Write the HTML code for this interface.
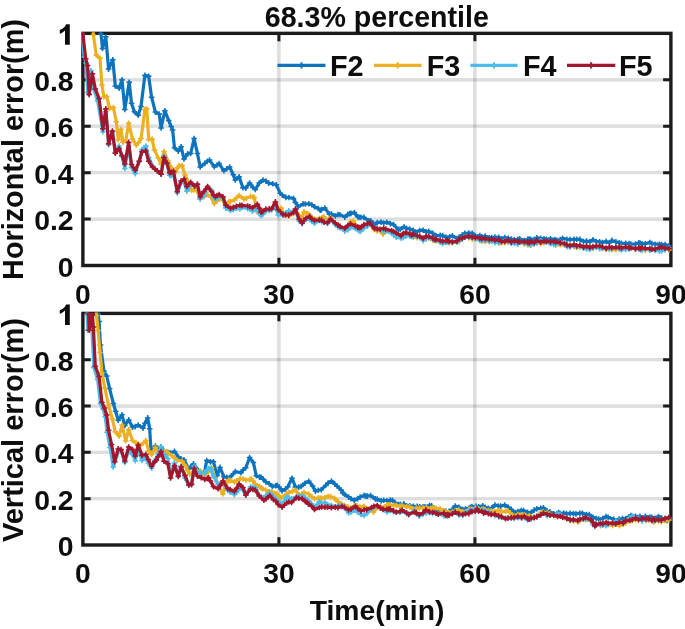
<!DOCTYPE html><html><head><meta charset="utf-8"><title>68.3% percentile</title><style>html,body{margin:0;padding:0;background:#fff;}body{width:685px;height:629px;overflow:hidden;font-family:"Liberation Sans",sans-serif;}</style></head><body><svg width="685" height="629" viewBox="0 0 685 629" style="display:block"><defs><clipPath id="c1"><rect x="81.4" y="32.35" width="591.0" height="234.65"/></clipPath><clipPath id="c2"><rect x="81.4" y="312.4" width="591.0" height="234.10000000000002"/></clipPath><filter id="bl" x="0" y="0" width="685" height="629" filterUnits="userSpaceOnUse"><feGaussianBlur stdDeviation="0.45"/></filter></defs><rect width="685" height="629" fill="#fff"/><g filter="url(#bl)"><line x1="82.9" x2="670.9" y1="219.07" y2="219.07" stroke="#262626" stroke-opacity="0.155" stroke-width="3.3"/><line x1="82.9" x2="670.9" y1="172.64" y2="172.64" stroke="#262626" stroke-opacity="0.155" stroke-width="3.3"/><line x1="82.9" x2="670.9" y1="126.21" y2="126.21" stroke="#262626" stroke-opacity="0.155" stroke-width="3.3"/><line x1="82.9" x2="670.9" y1="79.78" y2="79.78" stroke="#262626" stroke-opacity="0.155" stroke-width="3.3"/><line x1="278.90" x2="278.90" y1="33.35" y2="265.5" stroke="#262626" stroke-opacity="0.155" stroke-width="3.3"/><line x1="474.90" x2="474.90" y1="33.35" y2="265.5" stroke="#262626" stroke-opacity="0.155" stroke-width="3.3"/><rect x="82.9" y="33.35" width="588.0" height="232.15" fill="none" stroke="#1c1c1c" stroke-width="3.4"/><path d="M82.9,219.07h7.8M670.9,219.07h-7.8" stroke="#1c1c1c" stroke-width="3.0" fill="none"/><path d="M82.9,172.64h7.8M670.9,172.64h-7.8" stroke="#1c1c1c" stroke-width="3.0" fill="none"/><path d="M82.9,126.21h7.8M670.9,126.21h-7.8" stroke="#1c1c1c" stroke-width="3.0" fill="none"/><path d="M82.9,79.78h7.8M670.9,79.78h-7.8" stroke="#1c1c1c" stroke-width="3.0" fill="none"/><path d="M278.90,33.35v7.8M278.90,265.5v-7.8" stroke="#1c1c1c" stroke-width="3.0" fill="none"/><path d="M474.90,33.35v7.8M474.90,265.5v-7.8" stroke="#1c1c1c" stroke-width="3.0" fill="none"/><g clip-path="url(#c1)"><path d="M100.5,20.0 L101.0,33.9 L102.5,48.5 L105.8,36.7 L108.6,69.1 L112.8,59.7 L115.3,86.0 L119.1,88.2 L122.0,79.7 L124.8,109.4 L129.2,82.2 L131.5,103.3 L134.4,111.7 L138.2,115.3 L141.0,106.5 L144.9,75.4 L148.7,76.2 L151.6,97.2 L155.4,112.1 L159.2,114.1 L161.1,128.0 L164.9,110.7 L168.7,120.6 L171.2,126.4 L172.6,129.9 L174.5,147.8 L178.3,151.1 L181.1,146.7 L184.0,159.0 L187.8,153.7 L190.7,153.4 L194.1,138.6 L197.4,153.4 L200.2,166.9 L204.8,163.4 L207.2,161.3 L209.5,160.1 L214.3,166.8 L217.0,165.0 L219.1,163.6 L223.9,170.8 L226.8,168.8 L229.6,167.0 L233.3,174.8 L235.3,179.9 L239.1,176.7 L242.9,187.7 L245.8,188.1 L249.6,183.0 L252.9,187.4 L255.3,189.5 L259.2,183.1 L263.0,180.1 L266.0,181.1 L268.7,183.1 L272.6,183.8 L276.3,184.8 L280.2,193.2 L282.4,195.2 L285.9,197.4 L288.9,197.5 L293.5,198.5 L295.4,202.4 L298.3,206.7 L303.1,203.9 L305.3,204.0 L308.8,203.8 L311.8,204.8 L314.5,206.7 L318.3,208.5 L320.2,210.3 L321.6,209.6 L324.8,208.1 L329.5,214.3 L331.4,214.0 L335.3,216.0 L338.0,214.6 L340.0,214.7 L344.8,217.2 L347.8,214.4 L349.6,213.7 L351.0,213.4 L354.4,212.6 L357.6,216.8 L359.1,217.2 L360.9,217.2 L363.9,217.4 L368.7,220.8 L370.7,220.7 L375.3,224.3 L377.2,222.6 L381.1,222.1 L383.7,223.0 L386.8,222.2 L390.3,223.6 L393.5,224.5 L398.2,229.3 L400.1,229.3 L404.0,226.8 L406.6,228.4 L409.7,229.0 L413.2,230.3 L415.4,232.0 L419.7,230.5 L423.1,230.2 L426.2,231.9 L428.8,231.4 L432.8,233.3 L434.5,235.7 L436.1,235.8 L440.2,235.3 L442.6,235.6 L446.0,237.3 L449.8,236.7 L452.4,235.8 L457.0,238.5 L458.9,237.3 L462.2,235.1 L464.7,233.4 L468.8,233.1 L472.3,233.2 L475.3,236.0 L479.8,235.5 L481.8,236.8 L485.1,236.1 L489.3,237.7 L491.6,237.5 L494.9,237.1 L498.8,237.3 L501.5,238.7 L504.7,237.5 L508.3,238.2 L511.3,239.0 L514.5,239.8 L517.8,239.4 L519.7,238.7 L524.4,240.6 L527.6,239.4 L529.2,239.1 L530.9,239.4 L534.2,239.2 L536.8,237.8 L540.7,238.2 L544.0,238.8 L546.3,239.4 L550.5,238.7 L555.0,239.5 L557.0,240.2 L560.3,239.6 L562.6,238.4 L566.9,239.3 L570.1,239.6 L574.0,239.4 L576.7,239.3 L579.9,239.4 L583.5,241.5 L586.5,241.1 L589.8,241.8 L593.0,239.7 L596.3,241.6 L599.6,241.7 L602.4,242.6 L606.1,241.4 L609.4,242.7 L611.9,240.4 L615.9,241.9 L619.2,242.7 L621.4,243.3 L625.7,243.3 L629.0,243.6 L630.9,244.0 L635.5,244.1 L638.8,242.7 L640.4,243.4 L642.1,243.8 L645.3,243.7 L649.9,242.5 L651.9,243.6 L655.1,244.2 L659.4,244.2 L661.7,244.6 L665.0,244.6 L668.9,245.7" fill="none" stroke="#0f73bd" stroke-width="3.2" stroke-linejoin="round" stroke-linecap="round"/><path d="M97.7,20.0h5.6M100.5,17.2v5.6M98.2,33.9h5.6M101.0,31.1v5.6M99.7,48.5h5.6M102.5,45.7v5.6M103.0,36.7h5.6M105.8,33.9v5.6M105.8,69.1h5.6M108.6,66.3v5.6M110.0,59.7h5.6M112.8,56.9v5.6M112.5,86.0h5.6M115.3,83.2v5.6M116.3,88.2h5.6M119.1,85.4v5.6M119.2,79.7h5.6M122.0,76.9v5.6M122.0,109.4h5.6M124.8,106.6v5.6M126.4,82.2h5.6M129.2,79.4v5.6M128.7,103.3h5.6M131.5,100.5v5.6M131.6,111.7h5.6M134.4,108.9v5.6M135.4,115.3h5.6M138.2,112.5v5.6M138.2,106.5h5.6M141.0,103.7v5.6M142.1,75.4h5.6M144.9,72.6v5.6M145.9,76.2h5.6M148.7,73.4v5.6M148.8,97.2h5.6M151.6,94.4v5.6M152.6,112.1h5.6M155.4,109.3v5.6M156.4,114.1h5.6M159.2,111.3v5.6M158.3,128.0h5.6M161.1,125.2v5.6M162.1,110.7h5.6M164.9,107.9v5.6M165.9,120.6h5.6M168.7,117.8v5.6M168.4,126.4h5.6M171.2,123.6v5.6M169.8,129.9h5.6M172.6,127.1v5.6M171.7,147.8h5.6M174.5,145.0v5.6M175.5,151.1h5.6M178.3,148.3v5.6M178.3,146.7h5.6M181.1,143.9v5.6M181.2,159.0h5.6M184.0,156.2v5.6M185.0,153.7h5.6M187.8,150.9v5.6M187.9,153.4h5.6M190.7,150.6v5.6M191.3,138.6h5.6M194.1,135.8v5.6M194.6,153.4h5.6M197.4,150.6v5.6M197.4,166.9h5.6M200.2,164.1v5.6M202.0,163.4h5.6M204.8,160.6v5.6M204.4,161.3h5.6M207.2,158.5v5.6M206.7,160.1h5.6M209.5,157.3v5.6M211.5,166.8h5.6M214.3,164.0v5.6M214.2,165.0h5.6M217.0,162.2v5.6M216.3,163.6h5.6M219.1,160.8v5.6M221.1,170.8h5.6M223.9,168.0v5.6M224.0,168.8h5.6M226.8,166.0v5.6M226.8,167.0h5.6M229.6,164.2v5.6M230.5,174.8h5.6M233.3,172.0v5.6M232.5,179.9h5.6M235.3,177.1v5.6M236.3,176.7h5.6M239.1,173.9v5.6M240.1,187.7h5.6M242.9,184.9v5.6M243.0,188.1h5.6M245.8,185.3v5.6M246.8,183.0h5.6M249.6,180.2v5.6M250.1,187.4h5.6M252.9,184.6v5.6M252.5,189.5h5.6M255.3,186.7v5.6M256.4,183.1h5.6M259.2,180.3v5.6M260.2,180.1h5.6M263.0,177.3v5.6M263.2,181.1h5.6M266.0,178.3v5.6M265.9,183.1h5.6M268.7,180.3v5.6M269.8,183.8h5.6M272.6,181.0v5.6M273.5,184.8h5.6M276.3,182.0v5.6M277.4,193.2h5.6M280.2,190.4v5.6M279.6,195.2h5.6M282.4,192.4v5.6M283.1,197.4h5.6M285.9,194.6v5.6M286.1,197.5h5.6M288.9,194.7v5.6M290.7,198.5h5.6M293.5,195.7v5.6M292.6,202.4h5.6M295.4,199.6v5.6M295.5,206.7h5.6M298.3,203.9v5.6M300.3,203.9h5.6M303.1,201.1v5.6M302.5,204.0h5.6M305.3,201.2v5.6M306.0,203.8h5.6M308.8,201.0v5.6M309.0,204.8h5.6M311.8,202.0v5.6M311.7,206.7h5.6M314.5,203.9v5.6M315.5,208.5h5.6M318.3,205.7v5.6M317.4,210.3h5.6M320.2,207.5v5.6M318.8,209.6h5.6M321.6,206.8v5.6M322.0,208.1h5.6M324.8,205.3v5.6M326.7,214.3h5.6M329.5,211.5v5.6M328.6,214.0h5.6M331.4,211.2v5.6M332.5,216.0h5.6M335.3,213.2v5.6M335.2,214.6h5.6M338.0,211.8v5.6M337.2,214.7h5.6M340.0,211.9v5.6M342.0,217.2h5.6M344.8,214.4v5.6M345.0,214.4h5.6M347.8,211.6v5.6M346.8,213.7h5.6M349.6,210.9v5.6M348.2,213.4h5.6M351.0,210.6v5.6M351.6,212.6h5.6M354.4,209.8v5.6M354.8,216.8h5.6M357.6,214.0v5.6M356.3,217.2h5.6M359.1,214.4v5.6M358.1,217.2h5.6M360.9,214.4v5.6M361.1,217.4h5.6M363.9,214.6v5.6M365.9,220.8h5.6M368.7,218.0v5.6M367.9,220.7h5.6M370.7,217.9v5.6M372.5,224.3h5.6M375.3,221.5v5.6M374.4,222.6h5.6M377.2,219.8v5.6M378.3,222.1h5.6M381.1,219.3v5.6M380.9,223.0h5.6M383.7,220.2v5.6M384.0,222.2h5.6M386.8,219.4v5.6M387.5,223.6h5.6M390.3,220.8v5.6M390.7,224.5h5.6M393.5,221.7v5.6M395.4,229.3h5.6M398.2,226.5v5.6M397.3,229.3h5.6M400.1,226.5v5.6M401.2,226.8h5.6M404.0,224.0v5.6M403.8,228.4h5.6M406.6,225.6v5.6M406.9,229.0h5.6M409.7,226.2v5.6M410.4,230.3h5.6M413.2,227.5v5.6M412.6,232.0h5.6M415.4,229.2v5.6M416.9,230.5h5.6M419.7,227.7v5.6M420.3,230.2h5.6M423.1,227.4v5.6M423.4,231.9h5.6M426.2,229.1v5.6M426.0,231.4h5.6M428.8,228.6v5.6M430.0,233.3h5.6M432.8,230.5v5.6M431.7,235.7h5.6M434.5,232.9v5.6M433.3,235.8h5.6M436.1,233.0v5.6M437.4,235.3h5.6M440.2,232.5v5.6M439.8,235.6h5.6M442.6,232.8v5.6M443.2,237.3h5.6M446.0,234.5v5.6M447.0,236.7h5.6M449.8,233.9v5.6M449.6,235.8h5.6M452.4,233.0v5.6M454.2,238.5h5.6M457.0,235.7v5.6M456.1,237.3h5.6M458.9,234.5v5.6M459.4,235.1h5.6M462.2,232.3v5.6M461.9,233.4h5.6M464.7,230.6v5.6M466.0,233.1h5.6M468.8,230.3v5.6M469.5,233.2h5.6M472.3,230.4v5.6M472.5,236.0h5.6M475.3,233.2v5.6M477.0,235.5h5.6M479.8,232.7v5.6M479.0,236.8h5.6M481.8,234.0v5.6M482.3,236.1h5.6M485.1,233.3v5.6M486.5,237.7h5.6M489.3,234.9v5.6M488.8,237.5h5.6M491.6,234.7v5.6M492.1,237.1h5.6M494.9,234.3v5.6M496.0,237.3h5.6M498.8,234.5v5.6M498.7,238.7h5.6M501.5,235.9v5.6M501.9,237.5h5.6M504.7,234.7v5.6M505.5,238.2h5.6M508.3,235.4v5.6M508.5,239.0h5.6M511.3,236.2v5.6M511.7,239.8h5.6M514.5,237.0v5.6M515.0,239.4h5.6M517.8,236.6v5.6M516.9,238.7h5.6M519.7,235.9v5.6M521.6,240.6h5.6M524.4,237.8v5.6M524.8,239.4h5.6M527.6,236.6v5.6M526.4,239.1h5.6M529.2,236.3v5.6M528.1,239.4h5.6M530.9,236.6v5.6M531.4,239.2h5.6M534.2,236.4v5.6M534.0,237.8h5.6M536.8,235.0v5.6M537.9,238.2h5.6M540.7,235.4v5.6M541.2,238.8h5.6M544.0,236.0v5.6M543.5,239.4h5.6M546.3,236.6v5.6M547.7,238.7h5.6M550.5,235.9v5.6M552.2,239.5h5.6M555.0,236.7v5.6M554.2,240.2h5.6M557.0,237.4v5.6M557.5,239.6h5.6M560.3,236.8v5.6M559.8,238.4h5.6M562.6,235.6v5.6M564.1,239.3h5.6M566.9,236.5v5.6M567.3,239.6h5.6M570.1,236.8v5.6M571.2,239.4h5.6M574.0,236.6v5.6M573.9,239.3h5.6M576.7,236.5v5.6M577.1,239.4h5.6M579.9,236.6v5.6M580.7,241.5h5.6M583.5,238.7v5.6M583.7,241.1h5.6M586.5,238.3v5.6M587.0,241.8h5.6M589.8,239.0v5.6M590.2,239.7h5.6M593.0,236.9v5.6M593.5,241.6h5.6M596.3,238.8v5.6M596.8,241.7h5.6M599.6,238.9v5.6M599.6,242.6h5.6M602.4,239.8v5.6M603.3,241.4h5.6M606.1,238.6v5.6M606.6,242.7h5.6M609.4,239.9v5.6M609.1,240.4h5.6M611.9,237.6v5.6M613.1,241.9h5.6M615.9,239.1v5.6M616.4,242.7h5.6M619.2,239.9v5.6M618.6,243.3h5.6M621.4,240.5v5.6M622.9,243.3h5.6M625.7,240.5v5.6M626.2,243.6h5.6M629.0,240.8v5.6M628.1,244.0h5.6M630.9,241.2v5.6M632.7,244.1h5.6M635.5,241.3v5.6M636.0,242.7h5.6M638.8,239.9v5.6M637.6,243.4h5.6M640.4,240.6v5.6M639.3,243.8h5.6M642.1,241.0v5.6M642.5,243.7h5.6M645.3,240.9v5.6M647.1,242.5h5.6M649.9,239.7v5.6M649.1,243.6h5.6M651.9,240.8v5.6M652.4,244.2h5.6M655.1,241.4v5.6M656.6,244.2h5.6M659.4,241.4v5.6M658.9,244.6h5.6M661.7,241.8v5.6M662.2,244.6h5.6M665.0,241.8v5.6M666.1,245.7h5.6M668.9,242.9v5.6" fill="none" stroke="#0f73bd" stroke-width="1.5"/></g><g clip-path="url(#c1)"><path d="M92.5,20.0 L93.4,34.9 L96.2,54.9 L100.0,58.3 L101.9,84.9 L103.9,96.7 L106.7,96.6 L109.6,108.5 L113.4,107.5 L116.3,121.7 L118.2,139.7 L121.0,129.3 L122.9,142.3 L125.8,140.6 L128.7,123.2 L132.5,139.1 L136.3,145.1 L138.5,142.7 L141.1,138.4 L144.9,109.4 L146.8,109.1 L148.7,139.4 L152.1,139.1 L154.4,149.9 L158.2,157.8 L161.1,164.2 L164.0,151.5 L167.8,160.7 L171.6,168.1 L175.4,171.9 L177.7,167.7 L179.2,165.7 L182.1,165.5 L185.0,175.1 L188.8,183.1 L191.6,190.3 L194.1,189.9 L196.0,188.6 L200.2,198.7 L204.0,196.6 L207.6,194.8 L211.0,196.9 L214.3,203.6 L217.0,200.9 L219.0,198.9 L223.0,200.5 L226.0,207.2 L228.6,202.1 L230.1,201.6 L234.4,199.9 L236.6,197.7 L239.1,195.6 L243.9,198.9 L246.4,198.2 L250.6,196.4 L252.9,197.0 L254.4,197.5 L256.3,211.0 L259.5,213.4 L261.0,214.0 L262.8,212.2 L266.0,210.9 L269.3,209.8 L271.6,209.5 L275.4,203.6 L278.2,209.9 L281.1,208.1 L284.0,214.9 L285.6,214.5 L288.7,216.1 L293.5,213.6 L295.4,210.3 L299.2,215.4 L302.1,217.7 L304.0,211.9 L306.9,213.2 L308.5,214.2 L310.0,216.4 L311.8,217.3 L314.5,219.2 L319.3,218.5 L322.1,217.5 L323.8,216.8 L327.0,220.7 L330.5,217.5 L335.3,223.7 L338.0,224.9 L340.0,226.3 L344.8,229.4 L347.8,226.3 L350.5,221.7 L353.4,221.1 L357.6,227.4 L359.1,228.7 L360.9,227.7 L363.9,225.7 L367.4,224.2 L369.6,224.2 L374.4,229.8 L377.2,230.9 L380.1,231.0 L383.0,234.1 L388.0,230.7 L391.6,232.5 L393.6,233.8 L396.3,235.3 L401.1,235.5 L403.4,235.1 L405.9,234.0 L409.9,235.6 L411.6,235.5 L413.2,237.1 L417.3,237.8 L419.7,237.2 L423.1,238.6 L426.2,239.2 L428.8,237.6 L432.8,240.3 L434.5,240.0 L436.1,240.9 L440.2,242.2 L442.6,241.5 L445.9,242.0 L447.6,242.1 L449.1,242.9 L452.4,242.7 L457.0,241.2 L458.9,241.7 L462.2,238.7 L464.7,236.8 L468.8,237.6 L472.3,239.1 L475.3,238.9 L479.8,240.3 L481.8,241.2 L485.1,241.6 L489.3,241.6 L491.6,241.1 L494.9,241.8 L498.8,242.9 L501.5,242.8 L504.7,242.6 L508.3,242.3 L511.3,242.4 L514.5,243.3 L517.8,243.1 L519.7,241.9 L524.4,244.0 L527.6,244.7 L529.2,244.7 L530.9,244.6 L534.2,244.0 L536.8,242.7 L540.7,243.4 L544.0,242.6 L546.3,242.1 L550.5,243.1 L553.8,243.4 L555.7,245.0 L560.3,244.8 L564.5,244.9 L566.9,245.5 L570.1,245.1 L574.0,246.8 L576.7,247.4 L579.9,247.1 L583.5,247.1 L586.5,247.5 L589.8,247.3 L593.0,248.1 L596.3,247.2 L599.6,247.4 L602.4,248.2 L606.1,249.2 L609.4,249.5 L611.9,249.4 L615.9,249.8 L619.2,248.4 L621.4,247.5 L625.7,248.6 L629.0,248.5 L630.9,247.9 L635.5,249.2 L638.8,248.6 L640.4,248.4 L642.1,248.7 L645.3,250.3 L649.9,248.5 L651.9,249.3 L655.1,249.1 L659.4,248.9 L661.7,249.3 L665.0,248.6 L668.9,249.9" fill="none" stroke="#ecb020" stroke-width="3.2" stroke-linejoin="round" stroke-linecap="round"/><path d="M89.7,20.0h5.6M92.5,17.2v5.6M90.6,34.9h5.6M93.4,32.1v5.6M93.4,54.9h5.6M96.2,52.1v5.6M97.2,58.3h5.6M100.0,55.5v5.6M99.1,84.9h5.6M101.9,82.1v5.6M101.1,96.7h5.6M103.9,93.9v5.6M103.9,96.6h5.6M106.7,93.8v5.6M106.8,108.5h5.6M109.6,105.7v5.6M110.6,107.5h5.6M113.4,104.7v5.6M113.5,121.7h5.6M116.3,118.9v5.6M115.4,139.7h5.6M118.2,136.9v5.6M118.2,129.3h5.6M121.0,126.5v5.6M120.1,142.3h5.6M122.9,139.5v5.6M123.0,140.6h5.6M125.8,137.8v5.6M125.9,123.2h5.6M128.7,120.4v5.6M129.7,139.1h5.6M132.5,136.3v5.6M133.5,145.1h5.6M136.3,142.3v5.6M135.7,142.7h5.6M138.5,139.9v5.6M138.3,138.4h5.6M141.1,135.6v5.6M142.1,109.4h5.6M144.9,106.6v5.6M144.0,109.1h5.6M146.8,106.3v5.6M145.9,139.4h5.6M148.7,136.6v5.6M149.3,139.1h5.6M152.1,136.3v5.6M151.6,149.9h5.6M154.4,147.1v5.6M155.4,157.8h5.6M158.2,155.0v5.6M158.3,164.2h5.6M161.1,161.4v5.6M161.2,151.5h5.6M164.0,148.7v5.6M165.0,160.7h5.6M167.8,157.9v5.6M168.8,168.1h5.6M171.6,165.3v5.6M172.6,171.9h5.6M175.4,169.1v5.6M174.9,167.7h5.6M177.7,164.9v5.6M176.4,165.7h5.6M179.2,162.9v5.6M179.3,165.5h5.6M182.1,162.7v5.6M182.2,175.1h5.6M185.0,172.3v5.6M186.0,183.1h5.6M188.8,180.3v5.6M188.8,190.3h5.6M191.6,187.5v5.6M191.3,189.9h5.6M194.1,187.1v5.6M193.2,188.6h5.6M196.0,185.8v5.6M197.4,198.7h5.6M200.2,195.9v5.6M201.2,196.6h5.6M204.0,193.8v5.6M204.8,194.8h5.6M207.6,192.0v5.6M208.2,196.9h5.6M211.0,194.1v5.6M211.5,203.6h5.6M214.3,200.8v5.6M214.2,200.9h5.6M217.0,198.1v5.6M216.2,198.9h5.6M219.0,196.1v5.6M220.2,200.5h5.6M223.0,197.7v5.6M223.2,207.2h5.6M226.0,204.4v5.6M225.8,202.1h5.6M228.6,199.3v5.6M227.2,201.6h5.6M230.1,198.8v5.6M231.6,199.9h5.6M234.4,197.1v5.6M233.8,197.7h5.6M236.6,194.9v5.6M236.3,195.6h5.6M239.1,192.8v5.6M241.1,198.9h5.6M243.9,196.1v5.6M243.6,198.2h5.6M246.4,195.4v5.6M247.8,196.4h5.6M250.6,193.6v5.6M250.1,197.0h5.6M252.9,194.2v5.6M251.6,197.5h5.6M254.4,194.7v5.6M253.5,211.0h5.6M256.3,208.2v5.6M256.7,213.4h5.6M259.5,210.6v5.6M258.2,214.0h5.6M261.0,211.2v5.6M259.9,212.2h5.6M262.8,209.4v5.6M263.2,210.9h5.6M266.0,208.1v5.6M266.5,209.8h5.6M269.3,207.0v5.6M268.8,209.5h5.6M271.6,206.7v5.6M272.6,203.6h5.6M275.4,200.8v5.6M275.4,209.9h5.6M278.2,207.1v5.6M278.3,208.1h5.6M281.1,205.3v5.6M281.2,214.9h5.6M284.0,212.1v5.6M282.8,214.5h5.6M285.6,211.7v5.6M285.9,216.1h5.6M288.7,213.3v5.6M290.7,213.6h5.6M293.5,210.8v5.6M292.6,210.3h5.6M295.4,207.5v5.6M296.4,215.4h5.6M299.2,212.6v5.6M299.3,217.7h5.6M302.1,214.9v5.6M301.2,211.9h5.6M304.0,209.1v5.6M304.1,213.2h5.6M306.9,210.4v5.6M305.7,214.2h5.6M308.5,211.4v5.6M307.2,216.4h5.6M310.0,213.6v5.6M309.0,217.3h5.6M311.8,214.5v5.6M311.7,219.2h5.6M314.5,216.4v5.6M316.5,218.5h5.6M319.3,215.7v5.6M319.3,217.5h5.6M322.1,214.7v5.6M321.0,216.8h5.6M323.8,214.0v5.6M324.2,220.7h5.6M327.0,217.9v5.6M327.7,217.5h5.6M330.5,214.7v5.6M332.5,223.7h5.6M335.3,220.9v5.6M335.2,224.9h5.6M338.0,222.1v5.6M337.2,226.3h5.6M340.0,223.5v5.6M342.0,229.4h5.6M344.8,226.6v5.6M345.0,226.3h5.6M347.8,223.5v5.6M347.7,221.7h5.6M350.5,218.9v5.6M350.6,221.1h5.6M353.4,218.3v5.6M354.8,227.4h5.6M357.6,224.6v5.6M356.3,228.7h5.6M359.1,225.9v5.6M358.1,227.7h5.6M360.9,224.9v5.6M361.1,225.7h5.6M363.9,222.9v5.6M364.6,224.2h5.6M367.4,221.4v5.6M366.8,224.2h5.6M369.6,221.4v5.6M371.6,229.8h5.6M374.4,227.0v5.6M374.4,230.9h5.6M377.2,228.1v5.6M377.3,231.0h5.6M380.1,228.2v5.6M380.2,234.1h5.6M383.0,231.3v5.6M385.2,230.7h5.6M388.0,227.9v5.6M388.8,232.5h5.6M391.6,229.7v5.6M390.8,233.8h5.6M393.6,231.0v5.6M393.5,235.3h5.6M396.3,232.5v5.6M398.3,235.5h5.6M401.1,232.7v5.6M400.6,235.1h5.6M403.4,232.3v5.6M403.1,234.0h5.6M405.9,231.2v5.6M407.1,235.6h5.6M409.9,232.8v5.6M408.8,235.5h5.6M411.6,232.7v5.6M410.4,237.1h5.6M413.2,234.3v5.6M414.5,237.8h5.6M417.3,235.0v5.6M416.9,237.2h5.6M419.7,234.4v5.6M420.3,238.6h5.6M423.1,235.8v5.6M423.4,239.2h5.6M426.2,236.4v5.6M426.0,237.6h5.6M428.8,234.8v5.6M430.0,240.3h5.6M432.8,237.5v5.6M431.7,240.0h5.6M434.5,237.2v5.6M433.3,240.9h5.6M436.1,238.1v5.6M437.4,242.2h5.6M440.2,239.4v5.6M439.8,241.5h5.6M442.6,238.7v5.6M443.1,242.0h5.6M445.9,239.2v5.6M444.8,242.1h5.6M447.6,239.3v5.6M446.3,242.9h5.6M449.1,240.1v5.6M449.6,242.7h5.6M452.4,239.9v5.6M454.2,241.2h5.6M457.0,238.4v5.6M456.1,241.7h5.6M458.9,238.9v5.6M459.4,238.7h5.6M462.2,235.9v5.6M461.9,236.8h5.6M464.7,234.0v5.6M466.0,237.6h5.6M468.8,234.8v5.6M469.5,239.1h5.6M472.3,236.3v5.6M472.5,238.9h5.6M475.3,236.1v5.6M477.0,240.3h5.6M479.8,237.5v5.6M479.0,241.2h5.6M481.8,238.4v5.6M482.3,241.6h5.6M485.1,238.8v5.6M486.5,241.6h5.6M489.3,238.8v5.6M488.8,241.1h5.6M491.6,238.3v5.6M492.1,241.8h5.6M494.9,239.0v5.6M496.0,242.9h5.6M498.8,240.1v5.6M498.7,242.8h5.6M501.5,240.0v5.6M501.9,242.6h5.6M504.7,239.8v5.6M505.5,242.3h5.6M508.3,239.5v5.6M508.5,242.4h5.6M511.3,239.6v5.6M511.7,243.3h5.6M514.5,240.5v5.6M515.0,243.1h5.6M517.8,240.3v5.6M516.9,241.9h5.6M519.7,239.1v5.6M521.6,244.0h5.6M524.4,241.2v5.6M524.8,244.7h5.6M527.6,241.9v5.6M526.4,244.7h5.6M529.2,241.9v5.6M528.1,244.6h5.6M530.9,241.8v5.6M531.4,244.0h5.6M534.2,241.2v5.6M534.0,242.7h5.6M536.8,239.9v5.6M537.9,243.4h5.6M540.7,240.6v5.6M541.2,242.6h5.6M544.0,239.8v5.6M543.5,242.1h5.6M546.3,239.3v5.6M547.7,243.1h5.6M550.5,240.3v5.6M551.0,243.4h5.6M553.8,240.6v5.6M552.9,245.0h5.6M555.7,242.2v5.6M557.5,244.8h5.6M560.3,242.0v5.6M561.7,244.9h5.6M564.5,242.1v5.6M564.1,245.5h5.6M566.9,242.7v5.6M567.3,245.1h5.6M570.1,242.3v5.6M571.2,246.8h5.6M574.0,244.0v5.6M573.9,247.4h5.6M576.7,244.6v5.6M577.1,247.1h5.6M579.9,244.3v5.6M580.7,247.1h5.6M583.5,244.3v5.6M583.7,247.5h5.6M586.5,244.7v5.6M587.0,247.3h5.6M589.8,244.5v5.6M590.2,248.1h5.6M593.0,245.3v5.6M593.5,247.2h5.6M596.3,244.4v5.6M596.8,247.4h5.6M599.6,244.6v5.6M599.6,248.2h5.6M602.4,245.4v5.6M603.3,249.2h5.6M606.1,246.4v5.6M606.6,249.5h5.6M609.4,246.7v5.6M609.1,249.4h5.6M611.9,246.6v5.6M613.1,249.8h5.6M615.9,247.0v5.6M616.4,248.4h5.6M619.2,245.6v5.6M618.6,247.5h5.6M621.4,244.7v5.6M622.9,248.6h5.6M625.7,245.8v5.6M626.2,248.5h5.6M629.0,245.7v5.6M628.1,247.9h5.6M630.9,245.1v5.6M632.7,249.2h5.6M635.5,246.4v5.6M636.0,248.6h5.6M638.8,245.8v5.6M637.6,248.4h5.6M640.4,245.6v5.6M639.3,248.7h5.6M642.1,245.9v5.6M642.5,250.3h5.6M645.3,247.5v5.6M647.1,248.5h5.6M649.9,245.7v5.6M649.1,249.3h5.6M651.9,246.5v5.6M652.4,249.1h5.6M655.1,246.3v5.6M656.6,248.9h5.6M659.4,246.1v5.6M658.9,249.3h5.6M661.7,246.5v5.6M662.2,248.6h5.6M665.0,245.8v5.6M666.1,249.9h5.6M668.9,247.1v5.6" fill="none" stroke="#ecb020" stroke-width="1.5"/></g><g clip-path="url(#c1)"><path d="M81.0,27.9 L81.4,33.0 L84.2,57.1 L86.1,63.0 L87.7,92.6 L90.9,70.6 L93.8,89.5 L97.6,101.0 L102.9,131.7 L105.8,111.7 L108.6,144.7 L112.4,131.9 L115.3,152.4 L119.1,146.1 L122.0,156.5 L124.8,168.4 L128.7,145.9 L131.5,167.4 L135.3,173.6 L139.2,161.4 L142.0,149.6 L145.8,146.0 L148.7,157.5 L152.5,166.0 L154.8,168.6 L157.3,171.3 L161.1,173.9 L164.0,156.2 L166.8,164.1 L169.7,175.3 L171.2,175.7 L173.5,173.9 L177.3,192.9 L181.1,183.0 L184.0,182.3 L186.9,191.2 L190.7,184.1 L194.5,186.0 L197.4,184.3 L200.2,198.9 L203.8,196.0 L207.6,187.2 L211.5,190.2 L213.7,196.9 L215.3,199.3 L217.0,198.0 L219.1,196.5 L222.9,198.0 L225.8,208.1 L230.5,210.5 L233.3,209.7 L236.3,208.4 L239.9,209.0 L242.0,207.4 L247.7,208.7 L249.7,208.8 L252.5,211.3 L257.3,209.4 L259.5,213.7 L261.1,215.8 L262.8,214.5 L265.8,210.7 L269.3,210.5 L271.6,209.8 L275.4,207.0 L278.2,215.0 L283.0,215.1 L285.6,212.9 L288.7,210.7 L293.5,212.2 L295.4,210.8 L299.2,220.9 L302.1,223.4 L305.9,219.2 L309.7,219.3 L311.8,221.4 L314.5,223.4 L319.3,220.4 L321.6,221.6 L324.0,221.4 L327.5,223.5 L330.5,219.4 L335.3,224.7 L338.0,226.9 L340.0,227.6 L344.8,231.1 L347.8,229.9 L350.5,227.4 L355.3,228.5 L357.6,229.8 L359.1,230.9 L360.9,231.2 L363.9,228.0 L367.4,226.2 L369.6,223.9 L374.4,228.0 L377.2,228.5 L380.1,229.5 L383.7,231.7 L385.8,230.9 L391.6,233.4 L393.6,234.9 L396.3,237.3 L401.1,238.3 L403.4,237.6 L405.9,236.2 L409.9,236.2 L411.6,236.1 L413.2,236.6 L417.3,236.5 L419.7,237.5 L423.1,240.6 L426.2,238.3 L428.8,237.8 L432.8,239.4 L434.5,238.9 L436.1,240.3 L440.2,242.0 L442.6,243.7 L445.9,242.5 L447.6,241.2 L449.1,242.3 L452.4,241.8 L457.0,242.2 L458.9,240.7 L462.2,239.1 L464.7,237.0 L468.8,237.4 L472.3,237.5 L475.3,238.6 L479.8,240.4 L481.8,240.7 L485.1,240.2 L489.3,241.3 L491.6,240.8 L494.9,242.6 L498.8,242.6 L501.5,241.8 L504.7,240.7 L508.3,241.8 L511.3,243.3 L514.5,243.1 L517.8,244.1 L519.7,242.4 L524.4,243.0 L527.6,243.9 L529.2,244.0 L530.9,245.0 L534.2,243.8 L536.8,242.9 L540.7,240.8 L544.0,241.4 L546.3,242.1 L550.5,243.7 L553.8,244.5 L555.7,244.6 L560.3,242.5 L564.5,244.6 L566.9,246.8 L570.1,247.0 L574.0,245.7 L576.7,246.8 L579.9,246.0 L583.5,248.3 L586.5,248.9 L589.8,249.4 L593.0,247.9 L596.3,246.6 L599.6,248.7 L602.4,248.7 L606.1,248.3 L609.4,249.1 L611.9,248.5 L615.9,247.2 L619.2,248.9 L621.4,250.0 L625.7,249.4 L629.0,249.0 L630.9,247.3 L635.5,249.0 L638.8,249.0 L640.4,249.6 L642.1,250.1 L645.3,248.5 L649.9,250.3 L651.9,248.0 L655.1,250.4 L659.4,251.2 L661.7,250.9 L665.0,249.9 L668.9,247.8" fill="none" stroke="#4cbdec" stroke-width="3.2" stroke-linejoin="round" stroke-linecap="round"/><path d="M78.2,27.9h5.6M81.0,25.1v5.6M78.6,33.0h5.6M81.4,30.2v5.6M81.4,57.1h5.6M84.2,54.3v5.6M83.3,63.0h5.6M86.1,60.2v5.6M84.9,92.6h5.6M87.7,89.8v5.6M88.1,70.6h5.6M90.9,67.8v5.6M91.0,89.5h5.6M93.8,86.7v5.6M94.8,101.0h5.6M97.6,98.2v5.6M100.1,131.7h5.6M102.9,128.9v5.6M103.0,111.7h5.6M105.8,108.9v5.6M105.8,144.7h5.6M108.6,141.9v5.6M109.6,131.9h5.6M112.4,129.1v5.6M112.5,152.4h5.6M115.3,149.6v5.6M116.3,146.1h5.6M119.1,143.3v5.6M119.2,156.5h5.6M122.0,153.7v5.6M122.0,168.4h5.6M124.8,165.6v5.6M125.9,145.9h5.6M128.7,143.1v5.6M128.7,167.4h5.6M131.5,164.6v5.6M132.5,173.6h5.6M135.3,170.8v5.6M136.4,161.4h5.6M139.2,158.6v5.6M139.2,149.6h5.6M142.0,146.8v5.6M143.0,146.0h5.6M145.8,143.2v5.6M145.9,157.5h5.6M148.7,154.7v5.6M149.7,166.0h5.6M152.5,163.2v5.6M152.0,168.6h5.6M154.8,165.8v5.6M154.5,171.3h5.6M157.3,168.5v5.6M158.3,173.9h5.6M161.1,171.1v5.6M161.2,156.2h5.6M164.0,153.4v5.6M164.0,164.1h5.6M166.8,161.3v5.6M166.9,175.3h5.6M169.7,172.5v5.6M168.4,175.7h5.6M171.2,172.9v5.6M170.7,173.9h5.6M173.5,171.1v5.6M174.5,192.9h5.6M177.3,190.1v5.6M178.3,183.0h5.6M181.1,180.2v5.6M181.2,182.3h5.6M184.0,179.5v5.6M184.1,191.2h5.6M186.9,188.4v5.6M187.9,184.1h5.6M190.7,181.3v5.6M191.7,186.0h5.6M194.5,183.2v5.6M194.6,184.3h5.6M197.4,181.5v5.6M197.4,198.9h5.6M200.2,196.1v5.6M201.0,196.0h5.6M203.8,193.2v5.6M204.8,187.2h5.6M207.6,184.4v5.6M208.7,190.2h5.6M211.5,187.4v5.6M210.9,196.9h5.6M213.7,194.1v5.6M212.5,199.3h5.6M215.3,196.5v5.6M214.2,198.0h5.6M217.0,195.2v5.6M216.3,196.5h5.6M219.1,193.7v5.6M220.1,198.0h5.6M222.9,195.2v5.6M223.0,208.1h5.6M225.8,205.3v5.6M227.7,210.5h5.6M230.5,207.7v5.6M230.5,209.7h5.6M233.3,206.9v5.6M233.5,208.4h5.6M236.3,205.6v5.6M237.1,209.0h5.6M239.9,206.2v5.6M239.2,207.4h5.6M242.0,204.6v5.6M244.9,208.7h5.6M247.7,205.9v5.6M246.9,208.8h5.6M249.7,206.0v5.6M249.7,211.3h5.6M252.5,208.5v5.6M254.5,209.4h5.6M257.3,206.6v5.6M256.7,213.7h5.6M259.5,210.9v5.6M258.3,215.8h5.6M261.1,213.0v5.6M259.9,214.5h5.6M262.8,211.7v5.6M263.0,210.7h5.6M265.8,207.9v5.6M266.5,210.5h5.6M269.3,207.7v5.6M268.8,209.8h5.6M271.6,207.0v5.6M272.6,207.0h5.6M275.4,204.2v5.6M275.4,215.0h5.6M278.2,212.2v5.6M280.2,215.1h5.6M283.0,212.3v5.6M282.8,212.9h5.6M285.6,210.1v5.6M285.9,210.7h5.6M288.7,207.9v5.6M290.7,212.2h5.6M293.5,209.4v5.6M292.6,210.8h5.6M295.4,208.0v5.6M296.4,220.9h5.6M299.2,218.1v5.6M299.3,223.4h5.6M302.1,220.6v5.6M303.1,219.2h5.6M305.9,216.4v5.6M306.9,219.3h5.6M309.7,216.5v5.6M309.0,221.4h5.6M311.8,218.6v5.6M311.7,223.4h5.6M314.5,220.6v5.6M316.5,220.4h5.6M319.3,217.6v5.6M318.8,221.6h5.6M321.6,218.8v5.6M321.2,221.4h5.6M324.0,218.6v5.6M324.7,223.5h5.6M327.5,220.7v5.6M327.7,219.4h5.6M330.5,216.6v5.6M332.5,224.7h5.6M335.3,221.9v5.6M335.2,226.9h5.6M338.0,224.1v5.6M337.2,227.6h5.6M340.0,224.8v5.6M342.0,231.1h5.6M344.8,228.3v5.6M345.0,229.9h5.6M347.8,227.1v5.6M347.7,227.4h5.6M350.5,224.6v5.6M352.5,228.5h5.6M355.3,225.7v5.6M354.8,229.8h5.6M357.6,227.0v5.6M356.3,230.9h5.6M359.1,228.1v5.6M358.1,231.2h5.6M360.9,228.4v5.6M361.1,228.0h5.6M363.9,225.2v5.6M364.6,226.2h5.6M367.4,223.4v5.6M366.8,223.9h5.6M369.6,221.1v5.6M371.6,228.0h5.6M374.4,225.2v5.6M374.4,228.5h5.6M377.2,225.7v5.6M377.3,229.5h5.6M380.1,226.7v5.6M380.9,231.7h5.6M383.7,228.9v5.6M383.0,230.9h5.6M385.8,228.1v5.6M388.8,233.4h5.6M391.6,230.6v5.6M390.8,234.9h5.6M393.6,232.1v5.6M393.5,237.3h5.6M396.3,234.5v5.6M398.3,238.3h5.6M401.1,235.5v5.6M400.6,237.6h5.6M403.4,234.8v5.6M403.1,236.2h5.6M405.9,233.4v5.6M407.1,236.2h5.6M409.9,233.4v5.6M408.8,236.1h5.6M411.6,233.3v5.6M410.4,236.6h5.6M413.2,233.8v5.6M414.5,236.5h5.6M417.3,233.7v5.6M416.9,237.5h5.6M419.7,234.7v5.6M420.3,240.6h5.6M423.1,237.8v5.6M423.4,238.3h5.6M426.2,235.5v5.6M426.0,237.8h5.6M428.8,235.0v5.6M430.0,239.4h5.6M432.8,236.6v5.6M431.7,238.9h5.6M434.5,236.1v5.6M433.3,240.3h5.6M436.1,237.5v5.6M437.4,242.0h5.6M440.2,239.2v5.6M439.8,243.7h5.6M442.6,240.9v5.6M443.1,242.5h5.6M445.9,239.7v5.6M444.8,241.2h5.6M447.6,238.4v5.6M446.3,242.3h5.6M449.1,239.5v5.6M449.6,241.8h5.6M452.4,239.0v5.6M454.2,242.2h5.6M457.0,239.4v5.6M456.1,240.7h5.6M458.9,237.9v5.6M459.4,239.1h5.6M462.2,236.3v5.6M461.9,237.0h5.6M464.7,234.2v5.6M466.0,237.4h5.6M468.8,234.6v5.6M469.5,237.5h5.6M472.3,234.7v5.6M472.5,238.6h5.6M475.3,235.8v5.6M477.0,240.4h5.6M479.8,237.6v5.6M479.0,240.7h5.6M481.8,237.9v5.6M482.3,240.2h5.6M485.1,237.4v5.6M486.5,241.3h5.6M489.3,238.5v5.6M488.8,240.8h5.6M491.6,238.0v5.6M492.1,242.6h5.6M494.9,239.8v5.6M496.0,242.6h5.6M498.8,239.8v5.6M498.7,241.8h5.6M501.5,239.0v5.6M501.9,240.7h5.6M504.7,237.9v5.6M505.5,241.8h5.6M508.3,239.0v5.6M508.5,243.3h5.6M511.3,240.5v5.6M511.7,243.1h5.6M514.5,240.3v5.6M515.0,244.1h5.6M517.8,241.3v5.6M516.9,242.4h5.6M519.7,239.6v5.6M521.6,243.0h5.6M524.4,240.2v5.6M524.8,243.9h5.6M527.6,241.1v5.6M526.4,244.0h5.6M529.2,241.2v5.6M528.1,245.0h5.6M530.9,242.2v5.6M531.4,243.8h5.6M534.2,241.0v5.6M534.0,242.9h5.6M536.8,240.1v5.6M537.9,240.8h5.6M540.7,238.0v5.6M541.2,241.4h5.6M544.0,238.6v5.6M543.5,242.1h5.6M546.3,239.3v5.6M547.7,243.7h5.6M550.5,240.9v5.6M551.0,244.5h5.6M553.8,241.7v5.6M552.9,244.6h5.6M555.7,241.8v5.6M557.5,242.5h5.6M560.3,239.7v5.6M561.7,244.6h5.6M564.5,241.8v5.6M564.1,246.8h5.6M566.9,244.0v5.6M567.3,247.0h5.6M570.1,244.2v5.6M571.2,245.7h5.6M574.0,242.9v5.6M573.9,246.8h5.6M576.7,244.0v5.6M577.1,246.0h5.6M579.9,243.2v5.6M580.7,248.3h5.6M583.5,245.5v5.6M583.7,248.9h5.6M586.5,246.1v5.6M587.0,249.4h5.6M589.8,246.6v5.6M590.2,247.9h5.6M593.0,245.1v5.6M593.5,246.6h5.6M596.3,243.8v5.6M596.8,248.7h5.6M599.6,245.9v5.6M599.6,248.7h5.6M602.4,245.9v5.6M603.3,248.3h5.6M606.1,245.5v5.6M606.6,249.1h5.6M609.4,246.3v5.6M609.1,248.5h5.6M611.9,245.7v5.6M613.1,247.2h5.6M615.9,244.4v5.6M616.4,248.9h5.6M619.2,246.1v5.6M618.6,250.0h5.6M621.4,247.2v5.6M622.9,249.4h5.6M625.7,246.6v5.6M626.2,249.0h5.6M629.0,246.2v5.6M628.1,247.3h5.6M630.9,244.5v5.6M632.7,249.0h5.6M635.5,246.2v5.6M636.0,249.0h5.6M638.8,246.2v5.6M637.6,249.6h5.6M640.4,246.8v5.6M639.3,250.1h5.6M642.1,247.3v5.6M642.5,248.5h5.6M645.3,245.7v5.6M647.1,250.3h5.6M649.9,247.5v5.6M649.1,248.0h5.6M651.9,245.2v5.6M652.4,250.4h5.6M655.1,247.6v5.6M656.6,251.2h5.6M659.4,248.4v5.6M658.9,250.9h5.6M661.7,248.1v5.6M662.2,249.9h5.6M665.0,247.1v5.6M666.1,247.8h5.6M668.9,245.0v5.6" fill="none" stroke="#4cbdec" stroke-width="1.5"/></g><g clip-path="url(#c1)"><path d="M82.5,27.8 L82.9,34.0 L85.7,58.8 L87.6,65.6 L89.2,94.6 L92.4,73.7 L95.3,88.9 L99.1,98.5 L102.9,128.7 L105.8,108.9 L108.6,143.7 L112.4,131.1 L115.3,153.2 L119.1,148.5 L122.0,155.6 L124.8,164.0 L128.7,142.4 L131.5,164.6 L135.3,170.3 L139.2,161.3 L142.0,151.8 L145.8,150.8 L148.7,161.3 L152.5,167.0 L154.8,169.0 L157.3,170.8 L161.1,174.2 L164.0,157.5 L166.8,162.9 L169.7,172.7 L171.2,172.2 L173.5,171.4 L177.3,191.5 L181.1,181.0 L184.0,179.0 L186.9,186.5 L190.7,182.3 L194.5,186.1 L197.4,184.3 L200.2,196.7 L203.8,191.4 L207.6,186.5 L211.5,191.6 L213.7,195.0 L215.3,196.7 L217.0,195.6 L219.1,194.6 L222.9,196.8 L225.8,205.1 L230.5,208.2 L233.3,207.4 L236.3,206.2 L239.9,205.3 L242.0,205.4 L247.7,206.0 L249.7,206.8 L252.5,207.8 L257.3,204.2 L259.5,208.3 L261.1,212.3 L262.8,211.6 L265.8,209.1 L269.3,208.9 L271.6,208.7 L275.4,201.9 L278.2,209.7 L283.0,214.4 L285.6,214.9 L288.7,215.1 L293.5,212.5 L295.4,209.1 L299.2,219.2 L302.1,223.1 L305.9,218.2 L309.7,216.4 L311.8,219.0 L314.5,220.4 L319.3,220.0 L321.6,220.1 L324.0,222.3 L327.5,222.7 L330.5,219.0 L335.3,223.0 L338.0,225.2 L340.0,226.4 L344.8,228.3 L347.8,225.5 L350.5,223.8 L355.3,226.0 L357.6,227.1 L359.1,227.6 L360.9,227.5 L363.9,224.6 L367.4,223.7 L369.6,222.7 L374.4,228.4 L377.2,228.8 L380.1,229.3 L383.7,228.4 L385.8,229.1 L391.6,230.8 L393.6,231.5 L396.3,233.0 L401.1,235.8 L403.4,233.3 L405.9,232.6 L409.9,233.9 L411.6,235.1 L413.2,234.3 L417.3,235.7 L419.7,236.3 L423.1,238.4 L426.2,236.2 L428.8,236.5 L432.8,238.1 L434.5,239.6 L436.1,239.3 L440.2,240.5 L442.6,241.2 L445.9,240.8 L447.6,240.4 L449.1,241.3 L452.4,242.0 L457.0,241.3 L458.9,239.2 L462.2,238.2 L464.7,237.2 L468.8,236.2 L472.3,237.2 L475.3,237.4 L479.8,238.3 L481.8,238.6 L485.1,238.7 L489.3,239.5 L491.6,239.0 L494.9,240.2 L498.8,239.9 L501.5,241.5 L504.7,241.4 L508.3,240.3 L511.3,242.1 L514.5,240.9 L517.8,241.6 L519.7,241.8 L524.4,241.8 L527.6,242.1 L529.2,242.6 L530.9,241.6 L534.2,242.7 L536.8,240.5 L540.7,242.2 L544.0,241.0 L546.3,241.3 L550.5,241.9 L553.8,241.5 L555.7,241.9 L560.3,242.9 L564.5,243.5 L566.9,244.9 L570.1,245.8 L574.0,244.5 L576.7,245.9 L579.9,245.3 L583.5,247.2 L586.5,246.1 L589.8,247.4 L593.0,246.6 L596.3,246.0 L599.6,246.0 L602.4,246.8 L606.1,248.4 L609.4,246.9 L611.9,247.8 L615.9,247.3 L619.2,247.1 L621.4,248.1 L625.7,246.8 L629.0,247.9 L630.9,247.8 L635.5,248.6 L638.8,247.8 L640.4,248.7 L642.1,247.8 L645.3,248.3 L649.9,248.7 L651.9,249.2 L655.1,249.3 L659.4,247.5 L661.7,247.4 L665.0,248.1 L668.9,248.5" fill="none" stroke="#a2142f" stroke-width="3.2" stroke-linejoin="round" stroke-linecap="round"/><path d="M79.7,27.8h5.6M82.5,25.0v5.6M80.1,34.0h5.6M82.9,31.2v5.6M82.9,58.8h5.6M85.7,56.0v5.6M84.8,65.6h5.6M87.6,62.8v5.6M86.4,94.6h5.6M89.2,91.8v5.6M89.6,73.7h5.6M92.4,70.9v5.6M92.5,88.9h5.6M95.3,86.1v5.6M96.3,98.5h5.6M99.1,95.7v5.6M100.1,128.7h5.6M102.9,125.9v5.6M103.0,108.9h5.6M105.8,106.1v5.6M105.8,143.7h5.6M108.6,140.9v5.6M109.6,131.1h5.6M112.4,128.3v5.6M112.5,153.2h5.6M115.3,150.4v5.6M116.3,148.5h5.6M119.1,145.7v5.6M119.2,155.6h5.6M122.0,152.8v5.6M122.0,164.0h5.6M124.8,161.2v5.6M125.9,142.4h5.6M128.7,139.6v5.6M128.7,164.6h5.6M131.5,161.8v5.6M132.5,170.3h5.6M135.3,167.5v5.6M136.4,161.3h5.6M139.2,158.5v5.6M139.2,151.8h5.6M142.0,149.0v5.6M143.0,150.8h5.6M145.8,148.0v5.6M145.9,161.3h5.6M148.7,158.5v5.6M149.7,167.0h5.6M152.5,164.2v5.6M152.0,169.0h5.6M154.8,166.2v5.6M154.5,170.8h5.6M157.3,168.0v5.6M158.3,174.2h5.6M161.1,171.4v5.6M161.2,157.5h5.6M164.0,154.7v5.6M164.0,162.9h5.6M166.8,160.1v5.6M166.9,172.7h5.6M169.7,169.9v5.6M168.4,172.2h5.6M171.2,169.4v5.6M170.7,171.4h5.6M173.5,168.6v5.6M174.5,191.5h5.6M177.3,188.7v5.6M178.3,181.0h5.6M181.1,178.2v5.6M181.2,179.0h5.6M184.0,176.2v5.6M184.1,186.5h5.6M186.9,183.7v5.6M187.9,182.3h5.6M190.7,179.5v5.6M191.7,186.1h5.6M194.5,183.3v5.6M194.6,184.3h5.6M197.4,181.5v5.6M197.4,196.7h5.6M200.2,193.9v5.6M201.0,191.4h5.6M203.8,188.6v5.6M204.8,186.5h5.6M207.6,183.7v5.6M208.7,191.6h5.6M211.5,188.8v5.6M210.9,195.0h5.6M213.7,192.2v5.6M212.5,196.7h5.6M215.3,193.9v5.6M214.2,195.6h5.6M217.0,192.8v5.6M216.3,194.6h5.6M219.1,191.8v5.6M220.1,196.8h5.6M222.9,194.0v5.6M223.0,205.1h5.6M225.8,202.3v5.6M227.7,208.2h5.6M230.5,205.4v5.6M230.5,207.4h5.6M233.3,204.6v5.6M233.5,206.2h5.6M236.3,203.4v5.6M237.1,205.3h5.6M239.9,202.5v5.6M239.2,205.4h5.6M242.0,202.6v5.6M244.9,206.0h5.6M247.7,203.2v5.6M246.9,206.8h5.6M249.7,204.0v5.6M249.7,207.8h5.6M252.5,205.0v5.6M254.5,204.2h5.6M257.3,201.4v5.6M256.7,208.3h5.6M259.5,205.5v5.6M258.3,212.3h5.6M261.1,209.5v5.6M259.9,211.6h5.6M262.8,208.8v5.6M263.0,209.1h5.6M265.8,206.3v5.6M266.5,208.9h5.6M269.3,206.1v5.6M268.8,208.7h5.6M271.6,205.9v5.6M272.6,201.9h5.6M275.4,199.1v5.6M275.4,209.7h5.6M278.2,206.9v5.6M280.2,214.4h5.6M283.0,211.6v5.6M282.8,214.9h5.6M285.6,212.1v5.6M285.9,215.1h5.6M288.7,212.3v5.6M290.7,212.5h5.6M293.5,209.7v5.6M292.6,209.1h5.6M295.4,206.3v5.6M296.4,219.2h5.6M299.2,216.4v5.6M299.3,223.1h5.6M302.1,220.3v5.6M303.1,218.2h5.6M305.9,215.4v5.6M306.9,216.4h5.6M309.7,213.6v5.6M309.0,219.0h5.6M311.8,216.2v5.6M311.7,220.4h5.6M314.5,217.6v5.6M316.5,220.0h5.6M319.3,217.2v5.6M318.8,220.1h5.6M321.6,217.3v5.6M321.2,222.3h5.6M324.0,219.5v5.6M324.7,222.7h5.6M327.5,219.9v5.6M327.7,219.0h5.6M330.5,216.2v5.6M332.5,223.0h5.6M335.3,220.2v5.6M335.2,225.2h5.6M338.0,222.4v5.6M337.2,226.4h5.6M340.0,223.6v5.6M342.0,228.3h5.6M344.8,225.5v5.6M345.0,225.5h5.6M347.8,222.7v5.6M347.7,223.8h5.6M350.5,221.0v5.6M352.5,226.0h5.6M355.3,223.2v5.6M354.8,227.1h5.6M357.6,224.3v5.6M356.3,227.6h5.6M359.1,224.8v5.6M358.1,227.5h5.6M360.9,224.7v5.6M361.1,224.6h5.6M363.9,221.8v5.6M364.6,223.7h5.6M367.4,220.9v5.6M366.8,222.7h5.6M369.6,219.9v5.6M371.6,228.4h5.6M374.4,225.6v5.6M374.4,228.8h5.6M377.2,226.0v5.6M377.3,229.3h5.6M380.1,226.5v5.6M380.9,228.4h5.6M383.7,225.6v5.6M383.0,229.1h5.6M385.8,226.3v5.6M388.8,230.8h5.6M391.6,228.0v5.6M390.8,231.5h5.6M393.6,228.7v5.6M393.5,233.0h5.6M396.3,230.2v5.6M398.3,235.8h5.6M401.1,233.0v5.6M400.6,233.3h5.6M403.4,230.5v5.6M403.1,232.6h5.6M405.9,229.8v5.6M407.1,233.9h5.6M409.9,231.1v5.6M408.8,235.1h5.6M411.6,232.3v5.6M410.4,234.3h5.6M413.2,231.5v5.6M414.5,235.7h5.6M417.3,232.9v5.6M416.9,236.3h5.6M419.7,233.5v5.6M420.3,238.4h5.6M423.1,235.6v5.6M423.4,236.2h5.6M426.2,233.4v5.6M426.0,236.5h5.6M428.8,233.7v5.6M430.0,238.1h5.6M432.8,235.3v5.6M431.7,239.6h5.6M434.5,236.8v5.6M433.3,239.3h5.6M436.1,236.5v5.6M437.4,240.5h5.6M440.2,237.7v5.6M439.8,241.2h5.6M442.6,238.4v5.6M443.1,240.8h5.6M445.9,238.0v5.6M444.8,240.4h5.6M447.6,237.6v5.6M446.3,241.3h5.6M449.1,238.5v5.6M449.6,242.0h5.6M452.4,239.2v5.6M454.2,241.3h5.6M457.0,238.5v5.6M456.1,239.2h5.6M458.9,236.4v5.6M459.4,238.2h5.6M462.2,235.4v5.6M461.9,237.2h5.6M464.7,234.4v5.6M466.0,236.2h5.6M468.8,233.4v5.6M469.5,237.2h5.6M472.3,234.4v5.6M472.5,237.4h5.6M475.3,234.6v5.6M477.0,238.3h5.6M479.8,235.5v5.6M479.0,238.6h5.6M481.8,235.8v5.6M482.3,238.7h5.6M485.1,235.9v5.6M486.5,239.5h5.6M489.3,236.7v5.6M488.8,239.0h5.6M491.6,236.2v5.6M492.1,240.2h5.6M494.9,237.4v5.6M496.0,239.9h5.6M498.8,237.1v5.6M498.7,241.5h5.6M501.5,238.7v5.6M501.9,241.4h5.6M504.7,238.6v5.6M505.5,240.3h5.6M508.3,237.5v5.6M508.5,242.1h5.6M511.3,239.3v5.6M511.7,240.9h5.6M514.5,238.1v5.6M515.0,241.6h5.6M517.8,238.8v5.6M516.9,241.8h5.6M519.7,239.0v5.6M521.6,241.8h5.6M524.4,239.0v5.6M524.8,242.1h5.6M527.6,239.3v5.6M526.4,242.6h5.6M529.2,239.8v5.6M528.1,241.6h5.6M530.9,238.8v5.6M531.4,242.7h5.6M534.2,239.9v5.6M534.0,240.5h5.6M536.8,237.7v5.6M537.9,242.2h5.6M540.7,239.4v5.6M541.2,241.0h5.6M544.0,238.2v5.6M543.5,241.3h5.6M546.3,238.5v5.6M547.7,241.9h5.6M550.5,239.1v5.6M551.0,241.5h5.6M553.8,238.7v5.6M552.9,241.9h5.6M555.7,239.1v5.6M557.5,242.9h5.6M560.3,240.1v5.6M561.7,243.5h5.6M564.5,240.7v5.6M564.1,244.9h5.6M566.9,242.1v5.6M567.3,245.8h5.6M570.1,243.0v5.6M571.2,244.5h5.6M574.0,241.7v5.6M573.9,245.9h5.6M576.7,243.1v5.6M577.1,245.3h5.6M579.9,242.5v5.6M580.7,247.2h5.6M583.5,244.4v5.6M583.7,246.1h5.6M586.5,243.3v5.6M587.0,247.4h5.6M589.8,244.6v5.6M590.2,246.6h5.6M593.0,243.8v5.6M593.5,246.0h5.6M596.3,243.2v5.6M596.8,246.0h5.6M599.6,243.2v5.6M599.6,246.8h5.6M602.4,244.0v5.6M603.3,248.4h5.6M606.1,245.6v5.6M606.6,246.9h5.6M609.4,244.1v5.6M609.1,247.8h5.6M611.9,245.0v5.6M613.1,247.3h5.6M615.9,244.5v5.6M616.4,247.1h5.6M619.2,244.3v5.6M618.6,248.1h5.6M621.4,245.3v5.6M622.9,246.8h5.6M625.7,244.0v5.6M626.2,247.9h5.6M629.0,245.1v5.6M628.1,247.8h5.6M630.9,245.0v5.6M632.7,248.6h5.6M635.5,245.8v5.6M636.0,247.8h5.6M638.8,245.0v5.6M637.6,248.7h5.6M640.4,245.9v5.6M639.3,247.8h5.6M642.1,245.0v5.6M642.5,248.3h5.6M645.3,245.5v5.6M647.1,248.7h5.6M649.9,245.9v5.6M649.1,249.2h5.6M651.9,246.4v5.6M652.4,249.3h5.6M655.1,246.5v5.6M656.6,247.5h5.6M659.4,244.7v5.6M658.9,247.4h5.6M661.7,244.6v5.6M662.2,248.1h5.6M665.0,245.3v5.6M666.1,248.5h5.6M668.9,245.7v5.6" fill="none" stroke="#a2142f" stroke-width="1.5"/></g><line x1="82.9" x2="670.9" y1="498.68" y2="498.68" stroke="#262626" stroke-opacity="0.155" stroke-width="3.3"/><line x1="82.9" x2="670.9" y1="452.36" y2="452.36" stroke="#262626" stroke-opacity="0.155" stroke-width="3.3"/><line x1="82.9" x2="670.9" y1="406.04" y2="406.04" stroke="#262626" stroke-opacity="0.155" stroke-width="3.3"/><line x1="82.9" x2="670.9" y1="359.72" y2="359.72" stroke="#262626" stroke-opacity="0.155" stroke-width="3.3"/><line x1="278.90" x2="278.90" y1="313.4" y2="545.0" stroke="#262626" stroke-opacity="0.155" stroke-width="3.3"/><line x1="474.90" x2="474.90" y1="313.4" y2="545.0" stroke="#262626" stroke-opacity="0.155" stroke-width="3.3"/><rect x="82.9" y="313.4" width="588.0" height="231.60000000000002" fill="none" stroke="#1c1c1c" stroke-width="3.4"/><path d="M82.9,498.68h7.8M670.9,498.68h-7.8" stroke="#1c1c1c" stroke-width="3.0" fill="none"/><path d="M82.9,452.36h7.8M670.9,452.36h-7.8" stroke="#1c1c1c" stroke-width="3.0" fill="none"/><path d="M82.9,406.04h7.8M670.9,406.04h-7.8" stroke="#1c1c1c" stroke-width="3.0" fill="none"/><path d="M82.9,359.72h7.8M670.9,359.72h-7.8" stroke="#1c1c1c" stroke-width="3.0" fill="none"/><path d="M278.90,313.4v7.8M278.90,545.0v-7.8" stroke="#1c1c1c" stroke-width="3.0" fill="none"/><path d="M474.90,313.4v7.8M474.90,545.0v-7.8" stroke="#1c1c1c" stroke-width="3.0" fill="none"/><g clip-path="url(#c2)"><path d="M97.5,299.7 L98.2,314.2 L99.1,321.6 L100.5,345.0 L103.9,370.9 L106.7,376.0 L109.6,388.5 L113.4,403.5 L115.6,411.3 L118.2,420.3 L122.0,414.8 L124.8,425.5 L128.7,419.9 L132.5,427.1 L135.2,426.6 L138.2,425.0 L143.0,428.2 L145.0,423.3 L147.7,417.9 L149.7,428.8 L151.0,450.9 L155.4,446.1 L158.2,449.6 L161.1,446.7 L165.9,453.4 L167.9,452.6 L170.0,452.9 L174.5,451.4 L178.3,457.0 L181.0,458.9 L184.0,459.8 L188.8,469.1 L190.8,466.6 L193.5,463.9 L198.3,470.5 L202.0,474.0 L204.5,472.7 L206.7,460.6 L210.4,461.9 L213.4,461.7 L217.2,475.6 L220.0,467.4 L223.9,476.8 L226.8,477.2 L229.6,477.6 L233.3,473.8 L235.3,471.6 L241.0,472.8 L243.1,469.9 L245.8,467.7 L249.6,457.6 L253.4,462.6 L256.3,475.8 L259.5,477.1 L261.1,477.2 L262.8,478.8 L265.8,481.9 L269.3,483.8 L272.5,486.4 L275.8,485.7 L277.3,485.2 L279.1,487.1 L282.1,490.9 L285.6,488.9 L287.8,486.8 L292.0,478.2 L295.4,486.9 L298.7,487.1 L301.1,486.4 L305.0,483.2 L308.8,481.2 L312.6,486.0 L315.5,491.1 L318.3,490.3 L321.2,489.7 L325.7,485.4 L328.1,483.0 L331.5,481.1 L334.7,483.9 L337.2,486.2 L341.2,490.1 L342.9,493.0 L344.5,494.3 L348.6,497.1 L351.0,498.8 L354.4,500.4 L357.6,498.6 L360.1,497.1 L364.1,495.4 L365.8,496.1 L367.4,496.1 L370.6,495.5 L375.3,498.9 L377.2,499.1 L381.1,500.9 L383.7,500.2 L386.8,500.8 L390.3,500.1 L392.5,500.3 L398.2,504.5 L400.1,504.4 L404.0,503.9 L406.6,505.9 L409.7,505.9 L413.2,506.3 L417.3,506.4 L419.7,506.9 L423.0,506.8 L425.0,506.9 L429.5,505.5 L431.6,505.7 L436.4,510.7 L439.3,510.8 L444.0,511.2 L445.9,511.3 L447.6,513.3 L449.1,511.3 L452.4,509.4 L455.2,506.0 L458.9,507.3 L462.8,509.6 L465.5,508.9 L468.8,508.2 L470.4,507.2 L472.0,506.6 L476.0,506.3 L478.6,506.9 L482.7,505.7 L485.1,507.4 L488.4,508.4 L491.6,508.1 L495.0,505.0 L498.2,506.0 L500.7,506.1 L504.7,505.0 L508.3,507.2 L511.3,509.4 L515.0,512.5 L517.8,511.6 L521.1,510.5 L523.5,510.6 L527.6,512.3 L531.1,512.6 L534.2,509.9 L536.8,508.9 L540.7,508.4 L543.4,507.8 L547.2,511.0 L550.0,511.9 L553.8,513.8 L557.0,513.5 L558.6,512.5 L560.3,513.5 L563.6,513.1 L566.4,513.6 L570.1,513.4 L573.4,513.6 L575.9,513.9 L579.9,513.2 L582.5,513.2 L586.5,514.5 L589.2,514.5 L593.0,517.2 L596.3,518.5 L598.6,519.0 L602.8,518.6 L606.1,516.5 L608.1,517.3 L613.8,519.3 L615.9,520.7 L619.2,519.0 L621.0,520.0 L622.5,518.5 L625.7,518.5 L629.0,516.7 L631.0,515.5 L635.5,516.4 L640.0,516.4 L642.1,517.7 L645.3,516.4 L650.0,517.0 L651.9,517.2 L655.1,518.3 L658.4,516.5 L660.0,517.7 L661.7,518.0 L665.0,519.4 L667.0,520.5" fill="none" stroke="#0f73bd" stroke-width="3.2" stroke-linejoin="round" stroke-linecap="round"/><path d="M94.7,299.7h5.6M97.5,296.9v5.6M95.4,314.2h5.6M98.2,311.4v5.6M96.3,321.6h5.6M99.1,318.8v5.6M97.7,345.0h5.6M100.5,342.2v5.6M101.1,370.9h5.6M103.9,368.1v5.6M103.9,376.0h5.6M106.7,373.2v5.6M106.8,388.5h5.6M109.6,385.7v5.6M110.6,403.5h5.6M113.4,400.7v5.6M112.8,411.3h5.6M115.6,408.5v5.6M115.4,420.3h5.6M118.2,417.5v5.6M119.2,414.8h5.6M122.0,412.0v5.6M122.0,425.5h5.6M124.8,422.7v5.6M125.9,419.9h5.6M128.7,417.1v5.6M129.7,427.1h5.6M132.5,424.3v5.6M132.4,426.6h5.6M135.2,423.8v5.6M135.4,425.0h5.6M138.2,422.2v5.6M140.2,428.2h5.6M143.0,425.4v5.6M142.2,423.3h5.6M145.0,420.5v5.6M144.9,417.9h5.6M147.7,415.1v5.6M146.9,428.8h5.6M149.7,426.0v5.6M148.2,450.9h5.6M151.0,448.1v5.6M152.6,446.1h5.6M155.4,443.3v5.6M155.4,449.6h5.6M158.2,446.8v5.6M158.3,446.7h5.6M161.1,443.9v5.6M163.1,453.4h5.6M165.9,450.6v5.6M165.1,452.6h5.6M167.9,449.8v5.6M167.2,452.9h5.6M170.0,450.1v5.6M171.7,451.4h5.6M174.5,448.6v5.6M175.5,457.0h5.6M178.3,454.2v5.6M178.2,458.9h5.6M181.0,456.1v5.6M181.2,459.8h5.6M184.0,457.0v5.6M186.0,469.1h5.6M188.8,466.3v5.6M188.0,466.6h5.6M190.8,463.8v5.6M190.7,463.9h5.6M193.5,461.1v5.6M195.5,470.5h5.6M198.3,467.7v5.6M199.2,474.0h5.6M202.0,471.2v5.6M201.7,472.7h5.6M204.5,469.9v5.6M203.9,460.6h5.6M206.7,457.8v5.6M207.6,461.9h5.6M210.4,459.1v5.6M210.6,461.7h5.6M213.4,458.9v5.6M214.4,475.6h5.6M217.2,472.8v5.6M217.2,467.4h5.6M220.0,464.6v5.6M221.1,476.8h5.6M223.9,474.0v5.6M224.0,477.2h5.6M226.8,474.4v5.6M226.8,477.6h5.6M229.6,474.8v5.6M230.5,473.8h5.6M233.3,471.0v5.6M232.5,471.6h5.6M235.3,468.8v5.6M238.2,472.8h5.6M241.0,470.0v5.6M240.3,469.9h5.6M243.1,467.1v5.6M243.0,467.7h5.6M245.8,464.9v5.6M246.8,457.6h5.6M249.6,454.8v5.6M250.6,462.6h5.6M253.4,459.8v5.6M253.5,475.8h5.6M256.3,473.0v5.6M256.7,477.1h5.6M259.5,474.3v5.6M258.3,477.2h5.6M261.1,474.4v5.6M259.9,478.8h5.6M262.8,476.0v5.6M263.0,481.9h5.6M265.8,479.1v5.6M266.5,483.8h5.6M269.3,481.0v5.6M269.7,486.4h5.6M272.5,483.6v5.6M273.0,485.7h5.6M275.8,482.9v5.6M274.5,485.2h5.6M277.3,482.4v5.6M276.3,487.1h5.6M279.1,484.3v5.6M279.3,490.9h5.6M282.1,488.1v5.6M282.8,488.9h5.6M285.6,486.1v5.6M285.0,486.8h5.6M287.8,484.0v5.6M289.2,478.2h5.6M292.0,475.4v5.6M292.6,486.9h5.6M295.4,484.1v5.6M295.9,487.1h5.6M298.7,484.3v5.6M298.3,486.4h5.6M301.1,483.6v5.6M302.2,483.2h5.6M305.0,480.4v5.6M306.0,481.2h5.6M308.8,478.4v5.6M309.8,486.0h5.6M312.6,483.2v5.6M312.7,491.1h5.6M315.5,488.3v5.6M315.5,490.3h5.6M318.3,487.5v5.6M318.4,489.7h5.6M321.2,486.9v5.6M322.9,485.4h5.6M325.7,482.6v5.6M325.3,483.0h5.6M328.1,480.2v5.6M328.7,481.1h5.6M331.5,478.3v5.6M331.9,483.9h5.6M334.7,481.1v5.6M334.4,486.2h5.6M337.2,483.4v5.6M338.4,490.1h5.6M341.2,487.3v5.6M340.1,493.0h5.6M342.9,490.2v5.6M341.7,494.3h5.6M344.5,491.5v5.6M345.8,497.1h5.6M348.6,494.3v5.6M348.2,498.8h5.6M351.0,496.0v5.6M351.6,500.4h5.6M354.4,497.6v5.6M354.8,498.6h5.6M357.6,495.8v5.6M357.3,497.1h5.6M360.1,494.3v5.6M361.3,495.4h5.6M364.1,492.6v5.6M363.0,496.1h5.6M365.8,493.3v5.6M364.6,496.1h5.6M367.4,493.3v5.6M367.8,495.5h5.6M370.6,492.7v5.6M372.5,498.9h5.6M375.3,496.1v5.6M374.4,499.1h5.6M377.2,496.3v5.6M378.3,500.9h5.6M381.1,498.1v5.6M380.9,500.2h5.6M383.7,497.4v5.6M384.0,500.8h5.6M386.8,498.0v5.6M387.5,500.1h5.6M390.3,497.3v5.6M389.7,500.3h5.6M392.5,497.5v5.6M395.4,504.5h5.6M398.2,501.7v5.6M397.3,504.4h5.6M400.1,501.6v5.6M401.2,503.9h5.6M404.0,501.1v5.6M403.8,505.9h5.6M406.6,503.1v5.6M406.9,505.9h5.6M409.7,503.1v5.6M410.4,506.3h5.6M413.2,503.5v5.6M414.5,506.4h5.6M417.3,503.6v5.6M416.9,506.9h5.6M419.7,504.1v5.6M420.2,506.8h5.6M423.0,504.0v5.6M422.2,506.9h5.6M425.0,504.1v5.6M426.7,505.5h5.6M429.5,502.7v5.6M428.8,505.7h5.6M431.6,502.9v5.6M433.6,510.7h5.6M436.4,507.9v5.6M436.5,510.8h5.6M439.3,508.0v5.6M441.2,511.2h5.6M444.0,508.4v5.6M443.1,511.3h5.6M445.9,508.5v5.6M444.8,513.3h5.6M447.6,510.5v5.6M446.3,511.3h5.6M449.1,508.5v5.6M449.6,509.4h5.6M452.4,506.6v5.6M452.4,506.0h5.6M455.2,503.2v5.6M456.1,507.3h5.6M458.9,504.5v5.6M460.0,509.6h5.6M462.8,506.8v5.6M462.7,508.9h5.6M465.5,506.1v5.6M466.0,508.2h5.6M468.8,505.4v5.6M467.6,507.2h5.6M470.4,504.4v5.6M469.2,506.6h5.6M472.0,503.8v5.6M473.2,506.3h5.6M476.0,503.5v5.6M475.8,506.9h5.6M478.6,504.1v5.6M479.9,505.7h5.6M482.7,502.9v5.6M482.3,507.4h5.6M485.1,504.6v5.6M485.6,508.4h5.6M488.4,505.6v5.6M488.8,508.1h5.6M491.6,505.3v5.6M492.2,505.0h5.6M495.0,502.2v5.6M495.4,506.0h5.6M498.2,503.2v5.6M497.9,506.1h5.6M500.7,503.3v5.6M501.9,505.0h5.6M504.7,502.2v5.6M505.5,507.2h5.6M508.3,504.4v5.6M508.5,509.4h5.6M511.3,506.6v5.6M512.2,512.5h5.6M515.0,509.7v5.6M515.0,511.6h5.6M517.8,508.8v5.6M518.3,510.5h5.6M521.1,507.7v5.6M520.7,510.6h5.6M523.5,507.8v5.6M524.8,512.3h5.6M527.6,509.5v5.6M528.3,512.6h5.6M531.1,509.8v5.6M531.4,509.9h5.6M534.2,507.1v5.6M534.0,508.9h5.6M536.8,506.1v5.6M537.9,508.4h5.6M540.7,505.6v5.6M540.6,507.8h5.6M543.4,505.0v5.6M544.4,511.0h5.6M547.2,508.2v5.6M547.2,511.9h5.6M550.0,509.1v5.6M551.0,513.8h5.6M553.8,511.0v5.6M554.2,513.5h5.6M557.0,510.7v5.6M555.8,512.5h5.6M558.6,509.7v5.6M557.5,513.5h5.6M560.3,510.7v5.6M560.8,513.1h5.6M563.6,510.3v5.6M563.6,513.6h5.6M566.4,510.8v5.6M567.3,513.4h5.6M570.1,510.6v5.6M570.6,513.6h5.6M573.4,510.8v5.6M573.1,513.9h5.6M575.9,511.1v5.6M577.1,513.2h5.6M579.9,510.4v5.6M579.7,513.2h5.6M582.5,510.4v5.6M583.7,514.5h5.6M586.5,511.7v5.6M586.4,514.5h5.6M589.2,511.7v5.6M590.2,517.2h5.6M593.0,514.4v5.6M593.5,518.5h5.6M596.3,515.7v5.6M595.8,519.0h5.6M598.6,516.2v5.6M600.0,518.6h5.6M602.8,515.8v5.6M603.3,516.5h5.6M606.1,513.7v5.6M605.3,517.3h5.6M608.1,514.5v5.6M611.0,519.3h5.6M613.8,516.5v5.6M613.1,520.7h5.6M615.9,517.9v5.6M616.4,519.0h5.6M619.2,516.2v5.6M618.2,520.0h5.6M621.0,517.2v5.6M619.7,518.5h5.6M622.5,515.7v5.6M622.9,518.5h5.6M625.7,515.7v5.6M626.2,516.7h5.6M629.0,513.9v5.6M628.2,515.5h5.6M631.0,512.7v5.6M632.7,516.4h5.6M635.5,513.6v5.6M637.2,516.4h5.6M640.0,513.6v5.6M639.3,517.7h5.6M642.1,514.9v5.6M642.5,516.4h5.6M645.3,513.6v5.6M647.2,517.0h5.6M650.0,514.2v5.6M649.1,517.2h5.6M651.9,514.4v5.6M652.4,518.3h5.6M655.1,515.5v5.6M655.6,516.5h5.6M658.4,513.7v5.6M657.2,517.7h5.6M660.0,514.9v5.6M658.9,518.0h5.6M661.7,515.2v5.6M662.2,519.4h5.6M665.0,516.6v5.6M664.2,520.5h5.6M667.0,517.7v5.6" fill="none" stroke="#0f73bd" stroke-width="1.5"/></g><g clip-path="url(#c2)"><path d="M95.0,300.4 L96.5,315.7 L98.1,330.6 L100.0,352.4 L101.9,372.7 L104.8,387.9 L108.6,405.6 L112.4,419.0 L115.3,431.8 L119.1,436.1 L122.0,425.2 L125.8,440.8 L128.7,429.7 L132.5,440.5 L136.3,443.1 L138.5,444.1 L141.1,445.0 L145.8,440.6 L148.7,450.9 L151.6,454.5 L155.4,447.5 L158.2,452.2 L161.4,452.4 L164.7,451.8 L166.8,451.9 L171.6,455.5 L174.5,458.1 L177.3,460.2 L182.1,461.3 L184.3,464.5 L185.9,466.6 L187.5,470.5 L189.7,474.2 L194.5,470.3 L197.3,470.9 L200.2,471.1 L204.0,474.7 L208.0,472.3 L211.5,467.7 L215.0,477.7 L217.0,482.0 L219.0,487.0 L222.9,493.9 L225.5,484.4 L228.6,480.1 L230.1,480.6 L234.4,481.9 L236.6,480.7 L240.1,478.7 L243.1,479.0 L245.8,480.0 L249.7,479.6 L251.5,479.0 L252.9,481.1 L255.3,484.0 L259.5,486.6 L261.1,487.9 L262.8,488.8 L265.8,490.1 L269.3,491.8 L271.6,491.4 L275.8,493.6 L277.3,494.3 L279.1,496.3 L281.1,497.9 L286.8,493.5 L288.9,492.7 L292.6,491.1 L295.4,490.2 L299.2,494.9 L302.0,493.8 L304.0,492.3 L308.8,494.2 L311.8,496.7 L314.5,498.8 L318.3,497.8 L320.2,498.3 L321.6,498.4 L324.8,497.5 L328.1,496.3 L330.5,496.6 L334.7,498.4 L336.2,500.0 L338.0,501.7 L341.0,503.7 L344.5,505.4 L346.0,507.1 L347.8,507.0 L351.0,508.0 L354.3,506.2 L356.0,505.8 L357.6,506.2 L360.0,507.0 L363.9,506.2 L368.0,509.2 L370.7,510.0 L373.4,512.1 L378.0,507.1 L380.5,506.9 L383.0,507.8 L387.0,504.7 L388.7,504.9 L390.3,505.3 L393.6,505.2 L396.3,505.2 L400.1,506.2 L402.1,505.7 L406.6,506.5 L409.7,506.8 L413.2,509.0 L416.4,508.1 L419.2,508.0 L423.0,507.8 L426.2,507.6 L430.7,508.4 L432.8,507.5 L436.1,508.4 L440.2,508.9 L442.6,510.7 L445.9,511.6 L447.6,512.7 L449.1,512.9 L452.4,512.0 L455.2,510.7 L458.9,510.0 L462.8,511.7 L465.5,512.0 L468.8,509.4 L470.4,509.4 L472.0,509.4 L475.3,508.1 L477.0,508.4 L478.6,508.8 L481.8,509.3 L483.6,509.4 L485.1,509.8 L488.4,510.6 L491.2,510.8 L494.9,511.8 L498.8,510.2 L501.5,511.8 L505.5,511.1 L508.0,510.8 L510.2,512.7 L514.0,516.2 L517.8,514.5 L521.6,515.0 L524.4,514.7 L527.6,517.2 L529.2,515.9 L530.9,516.9 L534.2,516.8 L536.8,515.8 L540.7,512.6 L543.4,512.1 L547.2,512.6 L550.0,514.1 L553.8,515.6 L557.6,515.7 L560.3,515.1 L564.3,517.7 L566.9,519.1 L570.2,519.1 L573.4,521.0 L577.8,521.9 L579.9,520.6 L583.2,519.3 L585.4,519.8 L591.0,521.0 L593.0,522.7 L594.8,525.0 L596.3,524.6 L600.5,525.8 L602.8,524.7 L606.1,524.7 L608.1,524.7 L612.6,525.5 L615.7,524.1 L619.5,525.8 L623.3,524.3 L625.7,523.0 L630.0,520.2 L632.3,520.8 L635.5,519.8 L638.5,519.7 L642.1,519.6 L646.1,520.5 L648.6,520.3 L651.9,521.0 L653.7,522.1 L655.1,520.2 L658.4,521.1 L661.3,521.8 L665.0,520.7 L668.9,520.1" fill="none" stroke="#ecb020" stroke-width="3.2" stroke-linejoin="round" stroke-linecap="round"/><path d="M92.2,300.4h5.6M95.0,297.6v5.6M93.7,315.7h5.6M96.5,312.9v5.6M95.3,330.6h5.6M98.1,327.8v5.6M97.2,352.4h5.6M100.0,349.6v5.6M99.1,372.7h5.6M101.9,369.9v5.6M102.0,387.9h5.6M104.8,385.1v5.6M105.8,405.6h5.6M108.6,402.8v5.6M109.6,419.0h5.6M112.4,416.2v5.6M112.5,431.8h5.6M115.3,429.0v5.6M116.3,436.1h5.6M119.1,433.3v5.6M119.2,425.2h5.6M122.0,422.4v5.6M123.0,440.8h5.6M125.8,438.0v5.6M125.9,429.7h5.6M128.7,426.9v5.6M129.7,440.5h5.6M132.5,437.7v5.6M133.5,443.1h5.6M136.3,440.3v5.6M135.7,444.1h5.6M138.5,441.3v5.6M138.3,445.0h5.6M141.1,442.2v5.6M143.0,440.6h5.6M145.8,437.8v5.6M145.9,450.9h5.6M148.7,448.1v5.6M148.8,454.5h5.6M151.6,451.7v5.6M152.6,447.5h5.6M155.4,444.7v5.6M155.4,452.2h5.6M158.2,449.4v5.6M158.6,452.4h5.6M161.4,449.6v5.6M161.8,451.8h5.6M164.7,449.0v5.6M164.0,451.9h5.6M166.8,449.1v5.6M168.8,455.5h5.6M171.6,452.7v5.6M171.7,458.1h5.6M174.5,455.3v5.6M174.5,460.2h5.6M177.3,457.4v5.6M179.3,461.3h5.6M182.1,458.5v5.6M181.5,464.5h5.6M184.3,461.7v5.6M183.1,466.6h5.6M185.9,463.8v5.6M184.7,470.5h5.6M187.5,467.7v5.6M186.9,474.2h5.6M189.7,471.4v5.6M191.7,470.3h5.6M194.5,467.5v5.6M194.5,470.9h5.6M197.3,468.1v5.6M197.4,471.1h5.6M200.2,468.3v5.6M201.2,474.7h5.6M204.0,471.9v5.6M205.2,472.3h5.6M208.0,469.5v5.6M208.7,467.7h5.6M211.5,464.9v5.6M212.2,477.7h5.6M215.0,474.9v5.6M214.2,482.0h5.6M217.0,479.2v5.6M216.2,487.0h5.6M219.0,484.2v5.6M220.1,493.9h5.6M222.9,491.1v5.6M222.7,484.4h5.6M225.5,481.6v5.6M225.8,480.1h5.6M228.6,477.3v5.6M227.2,480.6h5.6M230.1,477.8v5.6M231.6,481.9h5.6M234.4,479.1v5.6M233.8,480.7h5.6M236.6,477.9v5.6M237.3,478.7h5.6M240.1,475.9v5.6M240.3,479.0h5.6M243.1,476.2v5.6M243.0,480.0h5.6M245.8,477.2v5.6M246.9,479.6h5.6M249.7,476.8v5.6M248.7,479.0h5.6M251.5,476.2v5.6M250.1,481.1h5.6M252.9,478.3v5.6M252.5,484.0h5.6M255.3,481.2v5.6M256.7,486.6h5.6M259.5,483.8v5.6M258.3,487.9h5.6M261.1,485.1v5.6M259.9,488.8h5.6M262.8,486.0v5.6M263.0,490.1h5.6M265.8,487.3v5.6M266.5,491.8h5.6M269.3,489.0v5.6M268.8,491.4h5.6M271.6,488.6v5.6M273.0,493.6h5.6M275.8,490.8v5.6M274.5,494.3h5.6M277.3,491.5v5.6M276.3,496.3h5.6M279.1,493.5v5.6M278.3,497.9h5.6M281.1,495.1v5.6M284.0,493.5h5.6M286.8,490.7v5.6M286.1,492.7h5.6M288.9,489.9v5.6M289.8,491.1h5.6M292.6,488.3v5.6M292.6,490.2h5.6M295.4,487.4v5.6M296.4,494.9h5.6M299.2,492.1v5.6M299.2,493.8h5.6M302.0,491.0v5.6M301.2,492.3h5.6M304.0,489.5v5.6M306.0,494.2h5.6M308.8,491.4v5.6M309.0,496.7h5.6M311.8,493.9v5.6M311.7,498.8h5.6M314.5,496.0v5.6M315.5,497.8h5.6M318.3,495.0v5.6M317.4,498.3h5.6M320.2,495.5v5.6M318.8,498.4h5.6M321.6,495.6v5.6M322.0,497.5h5.6M324.8,494.7v5.6M325.3,496.3h5.6M328.1,493.5v5.6M327.7,496.6h5.6M330.5,493.8v5.6M331.9,498.4h5.6M334.7,495.6v5.6M333.4,500.0h5.6M336.2,497.2v5.6M335.2,501.7h5.6M338.0,498.9v5.6M338.2,503.7h5.6M341.0,500.9v5.6M341.7,505.4h5.6M344.5,502.6v5.6M343.2,507.1h5.6M346.0,504.3v5.6M345.0,507.0h5.6M347.8,504.2v5.6M348.2,508.0h5.6M351.0,505.2v5.6M351.5,506.2h5.6M354.3,503.4v5.6M353.2,505.8h5.6M356.0,503.0v5.6M354.8,506.2h5.6M357.6,503.4v5.6M357.2,507.0h5.6M360.0,504.2v5.6M361.1,506.2h5.6M363.9,503.4v5.6M365.2,509.2h5.6M368.0,506.4v5.6M367.9,510.0h5.6M370.7,507.2v5.6M370.6,512.1h5.6M373.4,509.3v5.6M375.2,507.1h5.6M378.0,504.3v5.6M377.7,506.9h5.6M380.5,504.1v5.6M380.2,507.8h5.6M383.0,505.0v5.6M384.2,504.7h5.6M387.0,501.9v5.6M385.9,504.9h5.6M388.7,502.1v5.6M387.5,505.3h5.6M390.3,502.5v5.6M390.8,505.2h5.6M393.6,502.4v5.6M393.5,505.2h5.6M396.3,502.4v5.6M397.3,506.2h5.6M400.1,503.4v5.6M399.3,505.7h5.6M402.1,502.9v5.6M403.8,506.5h5.6M406.6,503.7v5.6M406.9,506.8h5.6M409.7,504.0v5.6M410.4,509.0h5.6M413.2,506.2v5.6M413.6,508.1h5.6M416.4,505.3v5.6M416.4,508.0h5.6M419.2,505.2v5.6M420.2,507.8h5.6M423.0,505.0v5.6M423.4,507.6h5.6M426.2,504.8v5.6M427.9,508.4h5.6M430.7,505.6v5.6M430.0,507.5h5.6M432.8,504.7v5.6M433.3,508.4h5.6M436.1,505.6v5.6M437.4,508.9h5.6M440.2,506.1v5.6M439.8,510.7h5.6M442.6,507.9v5.6M443.1,511.6h5.6M445.9,508.8v5.6M444.8,512.7h5.6M447.6,509.9v5.6M446.3,512.9h5.6M449.1,510.1v5.6M449.6,512.0h5.6M452.4,509.2v5.6M452.4,510.7h5.6M455.2,507.9v5.6M456.1,510.0h5.6M458.9,507.2v5.6M460.0,511.7h5.6M462.8,508.9v5.6M462.7,512.0h5.6M465.5,509.2v5.6M466.0,509.4h5.6M468.8,506.6v5.6M467.6,509.4h5.6M470.4,506.6v5.6M469.2,509.4h5.6M472.0,506.6v5.6M472.5,508.1h5.6M475.3,505.3v5.6M474.2,508.4h5.6M477.0,505.6v5.6M475.8,508.8h5.6M478.6,506.0v5.6M479.0,509.3h5.6M481.8,506.5v5.6M480.8,509.4h5.6M483.6,506.6v5.6M482.3,509.8h5.6M485.1,507.0v5.6M485.6,510.6h5.6M488.4,507.8v5.6M488.4,510.8h5.6M491.2,508.0v5.6M492.1,511.8h5.6M494.9,509.0v5.6M496.0,510.2h5.6M498.8,507.4v5.6M498.7,511.8h5.6M501.5,509.0v5.6M502.7,511.1h5.6M505.5,508.3v5.6M505.2,510.8h5.6M508.0,508.0v5.6M507.4,512.7h5.6M510.2,509.9v5.6M511.2,516.2h5.6M514.0,513.4v5.6M515.0,514.5h5.6M517.8,511.7v5.6M518.8,515.0h5.6M521.6,512.2v5.6M521.6,514.7h5.6M524.4,511.9v5.6M524.8,517.2h5.6M527.6,514.4v5.6M526.4,515.9h5.6M529.2,513.1v5.6M528.1,516.9h5.6M530.9,514.1v5.6M531.4,516.8h5.6M534.2,514.0v5.6M534.0,515.8h5.6M536.8,513.0v5.6M537.9,512.6h5.6M540.7,509.8v5.6M540.6,512.1h5.6M543.4,509.3v5.6M544.4,512.6h5.6M547.2,509.8v5.6M547.2,514.1h5.6M550.0,511.3v5.6M551.0,515.6h5.6M553.8,512.8v5.6M554.8,515.7h5.6M557.6,512.9v5.6M557.5,515.1h5.6M560.3,512.3v5.6M561.5,517.7h5.6M564.3,514.9v5.6M564.1,519.1h5.6M566.9,516.3v5.6M567.4,519.1h5.6M570.2,516.3v5.6M570.6,521.0h5.6M573.4,518.2v5.6M575.0,521.9h5.6M577.8,519.1v5.6M577.1,520.6h5.6M579.9,517.8v5.6M580.4,519.3h5.6M583.2,516.5v5.6M582.6,519.8h5.6M585.4,517.0v5.6M588.2,521.0h5.6M591.0,518.2v5.6M590.2,522.7h5.6M593.0,519.9v5.6M592.0,525.0h5.6M594.8,522.2v5.6M593.5,524.6h5.6M596.3,521.8v5.6M597.7,525.8h5.6M600.5,523.0v5.6M600.0,524.7h5.6M602.8,521.9v5.6M603.3,524.7h5.6M606.1,521.9v5.6M605.3,524.7h5.6M608.1,521.9v5.6M609.8,525.5h5.6M612.6,522.7v5.6M612.9,524.1h5.6M615.7,521.3v5.6M616.7,525.8h5.6M619.5,523.0v5.6M620.5,524.3h5.6M623.3,521.5v5.6M622.9,523.0h5.6M625.7,520.2v5.6M627.2,520.2h5.6M630.0,517.4v5.6M629.5,520.8h5.6M632.3,518.0v5.6M632.7,519.8h5.6M635.5,517.0v5.6M635.7,519.7h5.6M638.5,516.9v5.6M639.3,519.6h5.6M642.1,516.8v5.6M643.3,520.5h5.6M646.1,517.7v5.6M645.8,520.3h5.6M648.6,517.5v5.6M649.1,521.0h5.6M651.9,518.2v5.6M650.9,522.1h5.6M653.7,519.3v5.6M652.4,520.2h5.6M655.1,517.4v5.6M655.6,521.1h5.6M658.4,518.3v5.6M658.5,521.8h5.6M661.3,519.0v5.6M662.2,520.7h5.6M665.0,517.9v5.6M666.1,520.1h5.6M668.9,517.3v5.6" fill="none" stroke="#ecb020" stroke-width="1.5"/></g><g clip-path="url(#c2)"><path d="M86.5,300.0 L87.1,314.6 L87.7,330.3 L89.5,323.0 L90.9,316.3 L91.9,329.2 L93.8,367.6 L97.6,379.5 L100.4,403.5 L103.0,409.2 L105.2,416.8 L107.1,432.3 L110.0,447.5 L113.2,467.0 L118.2,452.2 L121.0,450.1 L124.8,462.4 L128.7,450.3 L132.5,454.6 L135.3,460.7 L138.2,449.3 L142.0,460.5 L145.8,457.6 L148.3,463.4 L151.6,468.1 L154.8,460.8 L156.3,458.5 L158.1,453.8 L161.1,446.8 L164.0,455.2 L167.8,458.6 L170.6,474.1 L174.5,463.0 L178.3,475.2 L181.1,466.2 L185.0,478.1 L188.8,485.3 L191.6,483.5 L194.1,466.1 L197.4,471.9 L201.2,472.6 L204.8,472.9 L207.2,470.1 L208.6,468.2 L210.4,468.7 L213.4,476.0 L218.1,484.2 L220.2,484.6 L222.9,482.8 L227.7,490.5 L230.1,492.1 L234.4,494.6 L236.6,492.4 L239.1,488.4 L242.9,489.9 L245.8,495.1 L250.6,486.9 L252.9,487.5 L255.3,487.5 L259.2,495.0 L263.9,497.7 L266.0,495.5 L269.7,492.7 L273.5,496.5 L275.8,498.7 L278.2,501.3 L282.1,503.8 L286.8,497.1 L288.9,497.8 L291.6,498.9 L296.4,496.7 L298.7,496.0 L302.1,495.9 L305.3,497.6 L306.9,499.7 L308.5,500.7 L311.6,503.8 L314.5,507.5 L319.3,501.6 L321.6,503.3 L325.0,502.6 L327.6,504.6 L331.4,505.6 L335.3,506.7 L338.0,505.7 L341.9,505.1 L344.5,507.9 L348.6,513.0 L351.0,512.3 L355.3,510.5 L357.6,512.2 L361.0,514.5 L364.1,515.5 L366.8,513.4 L371.5,508.4 L373.9,507.3 L377.3,505.7 L380.5,508.0 L383.0,509.8 L387.0,512.0 L388.7,510.5 L390.3,510.5 L393.6,511.8 L396.3,512.1 L400.1,512.3 L402.1,511.3 L406.6,513.6 L408.7,515.0 L414.5,510.3 L416.4,513.6 L419.2,516.3 L423.0,514.0 L425.9,513.3 L429.5,512.5 L432.6,513.4 L436.1,513.0 L438.3,513.5 L444.0,516.0 L445.9,514.3 L447.6,516.4 L449.1,515.2 L452.4,513.5 L455.2,512.0 L458.9,515.3 L462.8,515.1 L465.5,512.3 L468.8,510.7 L470.4,510.6 L472.0,510.4 L475.3,508.6 L477.0,510.2 L478.6,509.7 L481.8,511.2 L483.6,510.7 L485.1,511.2 L488.4,511.9 L491.2,514.3 L494.9,515.6 L498.8,516.9 L501.5,517.4 L505.5,518.3 L508.0,517.8 L511.3,518.0 L514.0,518.4 L517.8,517.7 L521.6,518.2 L524.4,517.6 L527.6,519.9 L529.2,518.8 L530.9,519.2 L534.2,517.5 L536.8,516.3 L540.7,514.5 L543.4,513.2 L547.2,515.7 L550.0,514.9 L553.8,515.3 L557.6,513.4 L560.3,514.3 L562.6,517.5 L566.9,518.4 L570.2,520.1 L573.4,519.8 L577.8,520.6 L579.9,519.3 L583.2,519.0 L585.4,519.0 L591.0,520.4 L593.0,524.7 L594.8,526.4 L596.3,524.2 L600.5,524.9 L602.8,525.2 L606.1,525.6 L608.1,524.4 L612.6,522.5 L615.7,521.2 L619.2,520.9 L623.3,523.3 L625.7,520.5 L630.0,517.7 L632.3,516.0 L635.5,517.7 L638.5,518.3 L642.1,521.1 L646.1,519.8 L648.6,519.0 L651.9,520.2 L653.7,520.4 L655.1,520.5 L658.4,519.9 L661.3,519.9 L665.0,518.6 L668.9,517.8" fill="none" stroke="#4cbdec" stroke-width="3.2" stroke-linejoin="round" stroke-linecap="round"/><path d="M83.7,300.0h5.6M86.5,297.2v5.6M84.3,314.6h5.6M87.1,311.8v5.6M84.9,330.3h5.6M87.7,327.5v5.6M86.7,323.0h5.6M89.5,320.2v5.6M88.1,316.3h5.6M90.9,313.5v5.6M89.1,329.2h5.6M91.9,326.4v5.6M91.0,367.6h5.6M93.8,364.8v5.6M94.8,379.5h5.6M97.6,376.7v5.6M97.6,403.5h5.6M100.4,400.7v5.6M100.2,409.2h5.6M103.0,406.4v5.6M102.4,416.8h5.6M105.2,414.0v5.6M104.3,432.3h5.6M107.1,429.5v5.6M107.2,447.5h5.6M110.0,444.7v5.6M110.4,467.0h5.6M113.2,464.2v5.6M115.4,452.2h5.6M118.2,449.4v5.6M118.2,450.1h5.6M121.0,447.3v5.6M122.0,462.4h5.6M124.8,459.6v5.6M125.9,450.3h5.6M128.7,447.5v5.6M129.7,454.6h5.6M132.5,451.8v5.6M132.5,460.7h5.6M135.3,457.9v5.6M135.4,449.3h5.6M138.2,446.5v5.6M139.2,460.5h5.6M142.0,457.7v5.6M143.0,457.6h5.6M145.8,454.8v5.6M145.5,463.4h5.6M148.3,460.6v5.6M148.8,468.1h5.6M151.6,465.3v5.6M152.0,460.8h5.6M154.8,458.0v5.6M153.5,458.5h5.6M156.3,455.7v5.6M155.3,453.8h5.6M158.1,451.0v5.6M158.3,446.8h5.6M161.1,444.0v5.6M161.2,455.2h5.6M164.0,452.4v5.6M165.0,458.6h5.6M167.8,455.8v5.6M167.8,474.1h5.6M170.6,471.3v5.6M171.7,463.0h5.6M174.5,460.2v5.6M175.5,475.2h5.6M178.3,472.4v5.6M178.3,466.2h5.6M181.1,463.4v5.6M182.2,478.1h5.6M185.0,475.3v5.6M186.0,485.3h5.6M188.8,482.5v5.6M188.8,483.5h5.6M191.6,480.7v5.6M191.3,466.1h5.6M194.1,463.3v5.6M194.6,471.9h5.6M197.4,469.1v5.6M198.4,472.6h5.6M201.2,469.8v5.6M202.0,472.9h5.6M204.8,470.1v5.6M204.4,470.1h5.6M207.2,467.3v5.6M205.8,468.2h5.6M208.6,465.4v5.6M207.6,468.7h5.6M210.4,465.9v5.6M210.6,476.0h5.6M213.4,473.2v5.6M215.3,484.2h5.6M218.1,481.4v5.6M217.4,484.6h5.6M220.2,481.8v5.6M220.1,482.8h5.6M222.9,480.0v5.6M224.9,490.5h5.6M227.7,487.7v5.6M227.2,492.1h5.6M230.1,489.3v5.6M231.6,494.6h5.6M234.4,491.8v5.6M233.8,492.4h5.6M236.6,489.6v5.6M236.3,488.4h5.6M239.1,485.6v5.6M240.1,489.9h5.6M242.9,487.1v5.6M243.0,495.1h5.6M245.8,492.3v5.6M247.8,486.9h5.6M250.6,484.1v5.6M250.1,487.5h5.6M252.9,484.7v5.6M252.5,487.5h5.6M255.3,484.7v5.6M256.4,495.0h5.6M259.2,492.2v5.6M261.1,497.7h5.6M263.9,494.9v5.6M263.2,495.5h5.6M266.0,492.7v5.6M266.9,492.7h5.6M269.7,489.9v5.6M270.7,496.5h5.6M273.5,493.7v5.6M273.0,498.7h5.6M275.8,495.9v5.6M275.4,501.3h5.6M278.2,498.5v5.6M279.3,503.8h5.6M282.1,501.0v5.6M284.0,497.1h5.6M286.8,494.3v5.6M286.1,497.8h5.6M288.9,495.0v5.6M288.8,498.9h5.6M291.6,496.1v5.6M293.6,496.7h5.6M296.4,493.9v5.6M295.9,496.0h5.6M298.7,493.2v5.6M299.3,495.9h5.6M302.1,493.1v5.6M302.5,497.6h5.6M305.3,494.8v5.6M304.1,499.7h5.6M306.9,496.9v5.6M305.7,500.7h5.6M308.5,497.9v5.6M308.8,503.8h5.6M311.6,501.0v5.6M311.7,507.5h5.6M314.5,504.7v5.6M316.5,501.6h5.6M319.3,498.8v5.6M318.8,503.3h5.6M321.6,500.5v5.6M322.2,502.6h5.6M325.0,499.8v5.6M324.8,504.6h5.6M327.6,501.8v5.6M328.6,505.6h5.6M331.4,502.8v5.6M332.5,506.7h5.6M335.3,503.9v5.6M335.2,505.7h5.6M338.0,502.9v5.6M339.1,505.1h5.6M341.9,502.3v5.6M341.7,507.9h5.6M344.5,505.1v5.6M345.8,513.0h5.6M348.6,510.2v5.6M348.2,512.3h5.6M351.0,509.5v5.6M352.5,510.5h5.6M355.3,507.7v5.6M354.8,512.2h5.6M357.6,509.4v5.6M358.2,514.5h5.6M361.0,511.7v5.6M361.3,515.5h5.6M364.1,512.7v5.6M364.0,513.4h5.6M366.8,510.6v5.6M368.7,508.4h5.6M371.5,505.6v5.6M371.1,507.3h5.6M373.9,504.5v5.6M374.5,505.7h5.6M377.3,502.9v5.6M377.7,508.0h5.6M380.5,505.2v5.6M380.2,509.8h5.6M383.0,507.0v5.6M384.2,512.0h5.6M387.0,509.2v5.6M385.9,510.5h5.6M388.7,507.7v5.6M387.5,510.5h5.6M390.3,507.7v5.6M390.8,511.8h5.6M393.6,509.0v5.6M393.5,512.1h5.6M396.3,509.3v5.6M397.3,512.3h5.6M400.1,509.5v5.6M399.3,511.3h5.6M402.1,508.5v5.6M403.8,513.6h5.6M406.6,510.8v5.6M405.9,515.0h5.6M408.7,512.2v5.6M411.7,510.3h5.6M414.5,507.5v5.6M413.6,513.6h5.6M416.4,510.8v5.6M416.4,516.3h5.6M419.2,513.5v5.6M420.2,514.0h5.6M423.0,511.2v5.6M423.1,513.3h5.6M425.9,510.5v5.6M426.7,512.5h5.6M429.5,509.7v5.6M429.8,513.4h5.6M432.6,510.6v5.6M433.3,513.0h5.6M436.1,510.2v5.6M435.5,513.5h5.6M438.3,510.7v5.6M441.2,516.0h5.6M444.0,513.2v5.6M443.1,514.3h5.6M445.9,511.5v5.6M444.8,516.4h5.6M447.6,513.6v5.6M446.3,515.2h5.6M449.1,512.4v5.6M449.6,513.5h5.6M452.4,510.7v5.6M452.4,512.0h5.6M455.2,509.2v5.6M456.1,515.3h5.6M458.9,512.5v5.6M460.0,515.1h5.6M462.8,512.3v5.6M462.7,512.3h5.6M465.5,509.5v5.6M466.0,510.7h5.6M468.8,507.9v5.6M467.6,510.6h5.6M470.4,507.8v5.6M469.2,510.4h5.6M472.0,507.6v5.6M472.5,508.6h5.6M475.3,505.8v5.6M474.2,510.2h5.6M477.0,507.4v5.6M475.8,509.7h5.6M478.6,506.9v5.6M479.0,511.2h5.6M481.8,508.4v5.6M480.8,510.7h5.6M483.6,507.9v5.6M482.3,511.2h5.6M485.1,508.4v5.6M485.6,511.9h5.6M488.4,509.1v5.6M488.4,514.3h5.6M491.2,511.5v5.6M492.1,515.6h5.6M494.9,512.8v5.6M496.0,516.9h5.6M498.8,514.1v5.6M498.7,517.4h5.6M501.5,514.6v5.6M502.7,518.3h5.6M505.5,515.5v5.6M505.2,517.8h5.6M508.0,515.0v5.6M508.5,518.0h5.6M511.3,515.2v5.6M511.2,518.4h5.6M514.0,515.6v5.6M515.0,517.7h5.6M517.8,514.9v5.6M518.8,518.2h5.6M521.6,515.4v5.6M521.6,517.6h5.6M524.4,514.8v5.6M524.8,519.9h5.6M527.6,517.1v5.6M526.4,518.8h5.6M529.2,516.0v5.6M528.1,519.2h5.6M530.9,516.4v5.6M531.4,517.5h5.6M534.2,514.7v5.6M534.0,516.3h5.6M536.8,513.5v5.6M537.9,514.5h5.6M540.7,511.7v5.6M540.6,513.2h5.6M543.4,510.4v5.6M544.4,515.7h5.6M547.2,512.9v5.6M547.2,514.9h5.6M550.0,512.1v5.6M551.0,515.3h5.6M553.8,512.5v5.6M554.8,513.4h5.6M557.6,510.6v5.6M557.5,514.3h5.6M560.3,511.5v5.6M559.8,517.5h5.6M562.6,514.7v5.6M564.1,518.4h5.6M566.9,515.6v5.6M567.4,520.1h5.6M570.2,517.3v5.6M570.6,519.8h5.6M573.4,517.0v5.6M575.0,520.6h5.6M577.8,517.8v5.6M577.1,519.3h5.6M579.9,516.5v5.6M580.4,519.0h5.6M583.2,516.2v5.6M582.6,519.0h5.6M585.4,516.2v5.6M588.2,520.4h5.6M591.0,517.6v5.6M590.2,524.7h5.6M593.0,521.9v5.6M592.0,526.4h5.6M594.8,523.6v5.6M593.5,524.2h5.6M596.3,521.4v5.6M597.7,524.9h5.6M600.5,522.1v5.6M600.0,525.2h5.6M602.8,522.4v5.6M603.3,525.6h5.6M606.1,522.8v5.6M605.3,524.4h5.6M608.1,521.6v5.6M609.8,522.5h5.6M612.6,519.7v5.6M612.9,521.2h5.6M615.7,518.4v5.6M616.4,520.9h5.6M619.2,518.1v5.6M620.5,523.3h5.6M623.3,520.5v5.6M622.9,520.5h5.6M625.7,517.7v5.6M627.2,517.7h5.6M630.0,514.9v5.6M629.5,516.0h5.6M632.3,513.2v5.6M632.7,517.7h5.6M635.5,514.9v5.6M635.7,518.3h5.6M638.5,515.5v5.6M639.3,521.1h5.6M642.1,518.3v5.6M643.3,519.8h5.6M646.1,517.0v5.6M645.8,519.0h5.6M648.6,516.2v5.6M649.1,520.2h5.6M651.9,517.4v5.6M650.9,520.4h5.6M653.7,517.6v5.6M652.4,520.5h5.6M655.1,517.7v5.6M655.6,519.9h5.6M658.4,517.1v5.6M658.5,519.9h5.6M661.3,517.1v5.6M662.2,518.6h5.6M665.0,515.8v5.6M666.1,517.8h5.6M668.9,515.0v5.6" fill="none" stroke="#4cbdec" stroke-width="1.5"/></g><g clip-path="url(#c2)"><path d="M88.0,300.4 L88.6,314.2 L89.2,330.3 L91.0,321.7 L92.4,314.9 L93.4,327.1 L95.3,366.3 L99.1,376.5 L101.9,402.2 L104.5,408.0 L106.7,415.1 L108.6,430.2 L111.5,444.4 L114.7,461.7 L118.2,448.9 L121.0,449.5 L124.8,461.0 L128.7,447.0 L132.5,449.5 L135.3,455.9 L138.2,445.0 L142.0,455.4 L145.8,454.5 L148.3,459.4 L151.6,466.2 L154.8,461.8 L156.3,460.3 L158.1,456.7 L161.1,451.6 L164.0,461.2 L167.8,463.7 L170.6,477.9 L174.5,465.8 L178.3,476.5 L181.1,466.9 L185.0,475.4 L188.8,485.0 L191.6,484.6 L194.1,468.4 L197.4,476.1 L201.2,477.8 L204.8,479.4 L207.2,478.4 L208.6,477.8 L210.4,481.0 L213.4,486.6 L218.1,488.8 L220.2,485.6 L222.9,480.9 L227.7,488.6 L230.1,489.5 L234.4,491.4 L236.6,488.3 L239.1,484.0 L242.9,487.4 L245.8,495.0 L250.6,489.0 L252.9,489.4 L255.3,490.1 L259.2,496.0 L263.9,500.3 L266.0,499.0 L269.7,495.5 L273.5,499.8 L275.8,501.2 L278.2,504.6 L282.1,507.2 L286.8,502.9 L288.9,502.0 L291.6,502.5 L296.4,497.6 L298.7,498.3 L302.1,498.6 L305.3,501.4 L306.9,502.2 L308.5,504.1 L311.6,506.3 L314.5,509.5 L319.3,507.5 L321.6,506.9 L325.0,507.1 L327.6,507.1 L331.4,507.6 L335.3,507.2 L338.0,507.6 L341.9,506.5 L344.5,507.2 L348.6,510.0 L351.0,509.3 L355.3,506.3 L357.6,508.4 L361.0,511.1 L364.1,509.7 L366.8,509.6 L371.5,507.5 L373.9,506.3 L377.3,505.5 L380.5,508.1 L383.0,509.3 L387.0,509.4 L388.7,509.0 L390.3,509.1 L393.6,510.9 L396.3,512.2 L400.1,511.2 L402.1,510.1 L406.6,512.8 L408.7,514.2 L414.5,512.1 L416.4,512.9 L419.2,514.5 L423.0,512.9 L425.9,509.8 L429.5,511.9 L432.6,512.2 L436.1,513.2 L438.3,514.2 L444.0,513.0 L445.9,515.5 L447.6,514.6 L449.1,515.1 L452.4,513.8 L455.2,512.1 L458.9,513.8 L462.8,514.5 L465.5,513.8 L468.8,513.6 L470.4,511.6 L472.0,511.7 L475.3,511.2 L477.0,509.0 L478.6,511.3 L481.8,511.3 L483.6,513.1 L485.1,512.3 L488.4,513.8 L491.2,514.4 L494.9,514.1 L498.8,515.9 L501.5,516.6 L505.5,518.8 L508.0,518.2 L511.3,517.8 L514.0,517.5 L517.8,516.5 L521.6,517.4 L524.4,516.3 L527.6,518.8 L529.2,519.2 L530.9,518.0 L534.2,517.8 L536.8,516.9 L540.7,515.0 L543.4,513.1 L547.2,514.3 L550.0,515.2 L553.8,515.1 L557.6,516.5 L560.3,516.2 L562.6,517.1 L566.9,518.3 L570.2,520.0 L573.4,519.7 L577.8,520.4 L579.9,519.2 L583.2,518.5 L585.4,517.5 L591.0,519.7 L593.0,522.3 L594.8,525.8 L596.3,524.8 L600.5,523.2 L602.8,523.7 L606.1,522.5 L608.1,523.2 L612.6,523.0 L615.7,523.9 L619.2,522.1 L623.3,523.0 L625.7,520.6 L630.0,520.4 L632.3,519.5 L635.5,518.1 L638.5,519.7 L642.1,518.6 L646.1,519.0 L648.6,518.6 L651.9,520.4 L653.7,518.8 L655.1,520.2 L658.4,519.5 L661.3,520.1 L665.0,518.6 L668.9,517.5" fill="none" stroke="#a2142f" stroke-width="3.2" stroke-linejoin="round" stroke-linecap="round"/><path d="M85.2,300.4h5.6M88.0,297.6v5.6M85.8,314.2h5.6M88.6,311.4v5.6M86.4,330.3h5.6M89.2,327.5v5.6M88.2,321.7h5.6M91.0,318.9v5.6M89.6,314.9h5.6M92.4,312.1v5.6M90.6,327.1h5.6M93.4,324.3v5.6M92.5,366.3h5.6M95.3,363.5v5.6M96.3,376.5h5.6M99.1,373.7v5.6M99.1,402.2h5.6M101.9,399.4v5.6M101.7,408.0h5.6M104.5,405.2v5.6M103.9,415.1h5.6M106.7,412.3v5.6M105.8,430.2h5.6M108.6,427.4v5.6M108.7,444.4h5.6M111.5,441.6v5.6M111.9,461.7h5.6M114.7,458.9v5.6M115.4,448.9h5.6M118.2,446.1v5.6M118.2,449.5h5.6M121.0,446.7v5.6M122.0,461.0h5.6M124.8,458.2v5.6M125.9,447.0h5.6M128.7,444.2v5.6M129.7,449.5h5.6M132.5,446.7v5.6M132.5,455.9h5.6M135.3,453.1v5.6M135.4,445.0h5.6M138.2,442.2v5.6M139.2,455.4h5.6M142.0,452.6v5.6M143.0,454.5h5.6M145.8,451.7v5.6M145.5,459.4h5.6M148.3,456.6v5.6M148.8,466.2h5.6M151.6,463.4v5.6M152.0,461.8h5.6M154.8,459.0v5.6M153.5,460.3h5.6M156.3,457.5v5.6M155.3,456.7h5.6M158.1,453.9v5.6M158.3,451.6h5.6M161.1,448.8v5.6M161.2,461.2h5.6M164.0,458.4v5.6M165.0,463.7h5.6M167.8,460.9v5.6M167.8,477.9h5.6M170.6,475.1v5.6M171.7,465.8h5.6M174.5,463.0v5.6M175.5,476.5h5.6M178.3,473.7v5.6M178.3,466.9h5.6M181.1,464.1v5.6M182.2,475.4h5.6M185.0,472.6v5.6M186.0,485.0h5.6M188.8,482.2v5.6M188.8,484.6h5.6M191.6,481.8v5.6M191.3,468.4h5.6M194.1,465.6v5.6M194.6,476.1h5.6M197.4,473.3v5.6M198.4,477.8h5.6M201.2,475.0v5.6M202.0,479.4h5.6M204.8,476.6v5.6M204.4,478.4h5.6M207.2,475.6v5.6M205.8,477.8h5.6M208.6,475.0v5.6M207.6,481.0h5.6M210.4,478.2v5.6M210.6,486.6h5.6M213.4,483.8v5.6M215.3,488.8h5.6M218.1,486.0v5.6M217.4,485.6h5.6M220.2,482.8v5.6M220.1,480.9h5.6M222.9,478.1v5.6M224.9,488.6h5.6M227.7,485.8v5.6M227.2,489.5h5.6M230.1,486.7v5.6M231.6,491.4h5.6M234.4,488.6v5.6M233.8,488.3h5.6M236.6,485.5v5.6M236.3,484.0h5.6M239.1,481.2v5.6M240.1,487.4h5.6M242.9,484.6v5.6M243.0,495.0h5.6M245.8,492.2v5.6M247.8,489.0h5.6M250.6,486.2v5.6M250.1,489.4h5.6M252.9,486.6v5.6M252.5,490.1h5.6M255.3,487.3v5.6M256.4,496.0h5.6M259.2,493.2v5.6M261.1,500.3h5.6M263.9,497.5v5.6M263.2,499.0h5.6M266.0,496.2v5.6M266.9,495.5h5.6M269.7,492.7v5.6M270.7,499.8h5.6M273.5,497.0v5.6M273.0,501.2h5.6M275.8,498.4v5.6M275.4,504.6h5.6M278.2,501.8v5.6M279.3,507.2h5.6M282.1,504.4v5.6M284.0,502.9h5.6M286.8,500.1v5.6M286.1,502.0h5.6M288.9,499.2v5.6M288.8,502.5h5.6M291.6,499.7v5.6M293.6,497.6h5.6M296.4,494.8v5.6M295.9,498.3h5.6M298.7,495.5v5.6M299.3,498.6h5.6M302.1,495.8v5.6M302.5,501.4h5.6M305.3,498.6v5.6M304.1,502.2h5.6M306.9,499.4v5.6M305.7,504.1h5.6M308.5,501.3v5.6M308.8,506.3h5.6M311.6,503.5v5.6M311.7,509.5h5.6M314.5,506.7v5.6M316.5,507.5h5.6M319.3,504.7v5.6M318.8,506.9h5.6M321.6,504.1v5.6M322.2,507.1h5.6M325.0,504.3v5.6M324.8,507.1h5.6M327.6,504.3v5.6M328.6,507.6h5.6M331.4,504.8v5.6M332.5,507.2h5.6M335.3,504.4v5.6M335.2,507.6h5.6M338.0,504.8v5.6M339.1,506.5h5.6M341.9,503.7v5.6M341.7,507.2h5.6M344.5,504.4v5.6M345.8,510.0h5.6M348.6,507.2v5.6M348.2,509.3h5.6M351.0,506.5v5.6M352.5,506.3h5.6M355.3,503.5v5.6M354.8,508.4h5.6M357.6,505.6v5.6M358.2,511.1h5.6M361.0,508.3v5.6M361.3,509.7h5.6M364.1,506.9v5.6M364.0,509.6h5.6M366.8,506.8v5.6M368.7,507.5h5.6M371.5,504.7v5.6M371.1,506.3h5.6M373.9,503.5v5.6M374.5,505.5h5.6M377.3,502.7v5.6M377.7,508.1h5.6M380.5,505.3v5.6M380.2,509.3h5.6M383.0,506.5v5.6M384.2,509.4h5.6M387.0,506.6v5.6M385.9,509.0h5.6M388.7,506.2v5.6M387.5,509.1h5.6M390.3,506.3v5.6M390.8,510.9h5.6M393.6,508.1v5.6M393.5,512.2h5.6M396.3,509.4v5.6M397.3,511.2h5.6M400.1,508.4v5.6M399.3,510.1h5.6M402.1,507.3v5.6M403.8,512.8h5.6M406.6,510.0v5.6M405.9,514.2h5.6M408.7,511.4v5.6M411.7,512.1h5.6M414.5,509.3v5.6M413.6,512.9h5.6M416.4,510.1v5.6M416.4,514.5h5.6M419.2,511.7v5.6M420.2,512.9h5.6M423.0,510.1v5.6M423.1,509.8h5.6M425.9,507.0v5.6M426.7,511.9h5.6M429.5,509.1v5.6M429.8,512.2h5.6M432.6,509.4v5.6M433.3,513.2h5.6M436.1,510.4v5.6M435.5,514.2h5.6M438.3,511.4v5.6M441.2,513.0h5.6M444.0,510.2v5.6M443.1,515.5h5.6M445.9,512.7v5.6M444.8,514.6h5.6M447.6,511.8v5.6M446.3,515.1h5.6M449.1,512.3v5.6M449.6,513.8h5.6M452.4,511.0v5.6M452.4,512.1h5.6M455.2,509.3v5.6M456.1,513.8h5.6M458.9,511.0v5.6M460.0,514.5h5.6M462.8,511.7v5.6M462.7,513.8h5.6M465.5,511.0v5.6M466.0,513.6h5.6M468.8,510.8v5.6M467.6,511.6h5.6M470.4,508.8v5.6M469.2,511.7h5.6M472.0,508.9v5.6M472.5,511.2h5.6M475.3,508.4v5.6M474.2,509.0h5.6M477.0,506.2v5.6M475.8,511.3h5.6M478.6,508.5v5.6M479.0,511.3h5.6M481.8,508.5v5.6M480.8,513.1h5.6M483.6,510.3v5.6M482.3,512.3h5.6M485.1,509.5v5.6M485.6,513.8h5.6M488.4,511.0v5.6M488.4,514.4h5.6M491.2,511.6v5.6M492.1,514.1h5.6M494.9,511.3v5.6M496.0,515.9h5.6M498.8,513.1v5.6M498.7,516.6h5.6M501.5,513.8v5.6M502.7,518.8h5.6M505.5,516.0v5.6M505.2,518.2h5.6M508.0,515.4v5.6M508.5,517.8h5.6M511.3,515.0v5.6M511.2,517.5h5.6M514.0,514.7v5.6M515.0,516.5h5.6M517.8,513.7v5.6M518.8,517.4h5.6M521.6,514.6v5.6M521.6,516.3h5.6M524.4,513.5v5.6M524.8,518.8h5.6M527.6,516.0v5.6M526.4,519.2h5.6M529.2,516.4v5.6M528.1,518.0h5.6M530.9,515.2v5.6M531.4,517.8h5.6M534.2,515.0v5.6M534.0,516.9h5.6M536.8,514.1v5.6M537.9,515.0h5.6M540.7,512.2v5.6M540.6,513.1h5.6M543.4,510.3v5.6M544.4,514.3h5.6M547.2,511.5v5.6M547.2,515.2h5.6M550.0,512.4v5.6M551.0,515.1h5.6M553.8,512.3v5.6M554.8,516.5h5.6M557.6,513.7v5.6M557.5,516.2h5.6M560.3,513.4v5.6M559.8,517.1h5.6M562.6,514.3v5.6M564.1,518.3h5.6M566.9,515.5v5.6M567.4,520.0h5.6M570.2,517.2v5.6M570.6,519.7h5.6M573.4,516.9v5.6M575.0,520.4h5.6M577.8,517.6v5.6M577.1,519.2h5.6M579.9,516.4v5.6M580.4,518.5h5.6M583.2,515.7v5.6M582.6,517.5h5.6M585.4,514.7v5.6M588.2,519.7h5.6M591.0,516.9v5.6M590.2,522.3h5.6M593.0,519.5v5.6M592.0,525.8h5.6M594.8,523.0v5.6M593.5,524.8h5.6M596.3,522.0v5.6M597.7,523.2h5.6M600.5,520.4v5.6M600.0,523.7h5.6M602.8,520.9v5.6M603.3,522.5h5.6M606.1,519.7v5.6M605.3,523.2h5.6M608.1,520.4v5.6M609.8,523.0h5.6M612.6,520.2v5.6M612.9,523.9h5.6M615.7,521.1v5.6M616.4,522.1h5.6M619.2,519.3v5.6M620.5,523.0h5.6M623.3,520.2v5.6M622.9,520.6h5.6M625.7,517.8v5.6M627.2,520.4h5.6M630.0,517.6v5.6M629.5,519.5h5.6M632.3,516.7v5.6M632.7,518.1h5.6M635.5,515.3v5.6M635.7,519.7h5.6M638.5,516.9v5.6M639.3,518.6h5.6M642.1,515.8v5.6M643.3,519.0h5.6M646.1,516.2v5.6M645.8,518.6h5.6M648.6,515.8v5.6M649.1,520.4h5.6M651.9,517.6v5.6M650.9,518.8h5.6M653.7,516.0v5.6M652.4,520.2h5.6M655.1,517.4v5.6M655.6,519.5h5.6M658.4,516.7v5.6M658.5,520.1h5.6M661.3,517.3v5.6M662.2,518.6h5.6M665.0,515.8v5.6M666.1,517.5h5.6M668.9,514.7v5.6" fill="none" stroke="#a2142f" stroke-width="1.5"/></g><g font-family="Liberation Sans, sans-serif" font-weight="bold" font-size="28.8px" fill="#0c0c0c"><text transform="translate(73.6,276.5) scale(1.0,1)" text-anchor="end" font-size="28.4px">0</text><text transform="translate(73.6,230.1) scale(1.0,1)" text-anchor="end" font-size="28.4px">0.2</text><text transform="translate(73.6,183.6) scale(1.0,1)" text-anchor="end" font-size="28.4px">0.4</text><text transform="translate(73.6,137.2) scale(1.0,1)" text-anchor="end" font-size="28.4px">0.6</text><text transform="translate(73.6,90.8) scale(1.0,1)" text-anchor="end" font-size="28.4px">0.8</text><path transform="translate(69.8,44.8)" d="M0,0 L-4.8,0 L-4.8,-14.3 C-6.3,-12.8 -8.2,-11.6 -10,-11.0 L-10,-14.7 C-7,-15.8 -4.7,-17.8 -3.7,-20.5 L0,-20.5 Z"/><text transform="translate(82.9,303.9) scale(1.0,1)" text-anchor="middle" font-size="28.2px">0</text><text transform="translate(278.9,303.9) scale(1.0,1)" text-anchor="middle" font-size="28.2px">30</text><text transform="translate(474.9,303.9) scale(1.0,1)" text-anchor="middle" font-size="28.2px">60</text><text transform="translate(670.9,303.9) scale(1.0,1)" text-anchor="middle" font-size="28.2px">90</text><text transform="translate(73.6,556.0) scale(1.0,1)" text-anchor="end" font-size="28.4px">0</text><text transform="translate(73.6,509.7) scale(1.0,1)" text-anchor="end" font-size="28.4px">0.2</text><text transform="translate(73.6,463.4) scale(1.0,1)" text-anchor="end" font-size="28.4px">0.4</text><text transform="translate(73.6,417.0) scale(1.0,1)" text-anchor="end" font-size="28.4px">0.6</text><text transform="translate(73.6,370.7) scale(1.0,1)" text-anchor="end" font-size="28.4px">0.8</text><path transform="translate(69.8,324.9)" d="M0,0 L-4.8,0 L-4.8,-14.3 C-6.3,-12.8 -8.2,-11.6 -10,-11.0 L-10,-14.7 C-7,-15.8 -4.7,-17.8 -3.7,-20.5 L0,-20.5 Z"/><text transform="translate(82.9,583.4) scale(1.0,1)" text-anchor="middle" font-size="28.2px">0</text><text transform="translate(278.9,583.4) scale(1.0,1)" text-anchor="middle" font-size="28.2px">30</text><text transform="translate(474.9,583.4) scale(1.0,1)" text-anchor="middle" font-size="28.2px">60</text><text transform="translate(670.9,583.4) scale(1.0,1)" text-anchor="middle" font-size="28.2px">90</text><text transform="translate(376.8,26.9) scale(1.0,1)" text-anchor="middle" font-size="28.6px">68.3% percentile</text><text transform="translate(377,619.6) scale(1.0,1)" text-anchor="middle" font-size="28.3px">Time(min)</text><text transform="translate(22.9,149.5) rotate(-90) scale(1.0,1)" text-anchor="middle">Horizontal error(m)</text><text transform="translate(22.9,430) rotate(-90) scale(1.0,1)" text-anchor="middle" font-size="29px">Vertical error(m)</text><path d="M277.5,65.3H325.5" stroke="#0f73bd" stroke-width="3.2" fill="none"/><path d="M298.5,65.3h6M301.5,62.199999999999996v6.2" stroke="#0f73bd" stroke-width="2.0" fill="none"/><text transform="translate(330,75.9) scale(1.0,1)" text-anchor="start">F2</text><path d="M374,65.3H421.5" stroke="#ecb020" stroke-width="3.2" fill="none"/><path d="M394.75,65.3h6M397.75,62.199999999999996v6.2" stroke="#ecb020" stroke-width="2.0" fill="none"/><text transform="translate(426.7,75.9) scale(1.0,1)" text-anchor="start">F3</text><path d="M470.4,65.3H517.6" stroke="#4cbdec" stroke-width="3.2" fill="none"/><path d="M491.0,65.3h6M494.0,62.199999999999996v6.2" stroke="#4cbdec" stroke-width="2.0" fill="none"/><text transform="translate(523,75.9) scale(1.0,1)" text-anchor="start">F4</text><path d="M567,65.3H615.3" stroke="#a2142f" stroke-width="3.2" fill="none"/><path d="M588.15,65.3h6M591.15,62.199999999999996v6.2" stroke="#a2142f" stroke-width="2.0" fill="none"/><text transform="translate(619,75.9) scale(1.0,1)" text-anchor="start">F5</text></g></g></svg></body></html>
